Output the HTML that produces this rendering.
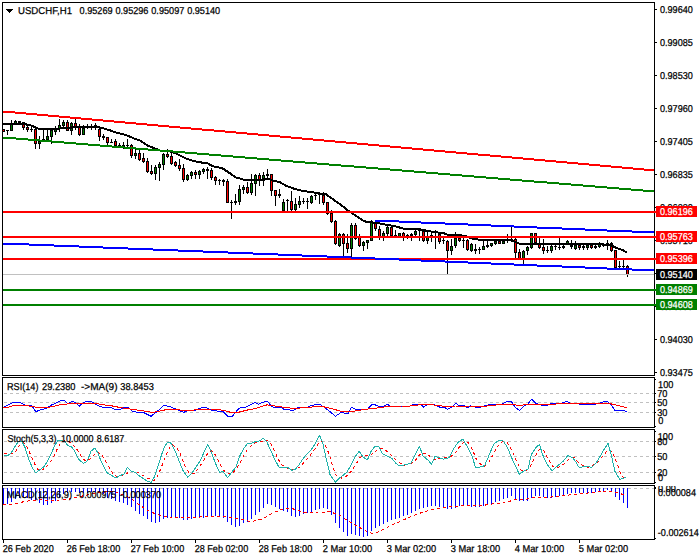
<!DOCTYPE html>
<html><head><meta charset="utf-8"><title>USDCHF,H1</title>
<style>html,body{margin:0;padding:0;background:#fff;overflow:hidden}svg{display:block}text{font-family:"Liberation Sans",sans-serif}</style>
</head><body>
<svg width="700" height="560" viewBox="0 0 700 560" font-family="Liberation Sans, sans-serif" text-rendering="geometricPrecision"><rect x="3" y="129" width="1" height="3" fill="#000"/>
<rect x="3" y="129" width="2" height="3" fill="#000"/>
<rect x="3" y="130" width="1" height="1" fill="#ff0000"/>
<rect x="7" y="130" width="1" height="5" fill="#000"/>
<rect x="6" y="130" width="3" height="1" fill="#000"/>
<rect x="11" y="120" width="1" height="11" fill="#000"/>
<rect x="10" y="124" width="3" height="7" fill="#000"/>
<rect x="11" y="125" width="1" height="5" fill="#008000"/>
<rect x="15" y="120" width="1" height="4" fill="#000"/>
<rect x="14" y="121" width="3" height="3" fill="#000"/>
<rect x="15" y="122" width="1" height="1" fill="#008000"/>
<rect x="19" y="121" width="1" height="3" fill="#000"/>
<rect x="18" y="121" width="3" height="2" fill="#000"/>
<rect x="23" y="122" width="1" height="8" fill="#000"/>
<rect x="22" y="122" width="3" height="6" fill="#000"/>
<rect x="23" y="123" width="1" height="4" fill="#ff0000"/>
<rect x="27" y="126" width="1" height="6" fill="#000"/>
<rect x="26" y="127" width="3" height="3" fill="#000"/>
<rect x="27" y="128" width="1" height="1" fill="#ff0000"/>
<rect x="31" y="127" width="1" height="5" fill="#000"/>
<rect x="30" y="129" width="3" height="1" fill="#000"/>
<rect x="35" y="129" width="1" height="20" fill="#000"/>
<rect x="34" y="129" width="3" height="15" fill="#000"/>
<rect x="35" y="130" width="1" height="13" fill="#ff0000"/>
<rect x="39" y="136" width="1" height="13" fill="#000"/>
<rect x="38" y="141" width="3" height="3" fill="#000"/>
<rect x="39" y="142" width="1" height="1" fill="#008000"/>
<rect x="43" y="129" width="1" height="11" fill="#000"/>
<rect x="42" y="139" width="3" height="1" fill="#000"/>
<rect x="47" y="129" width="1" height="12" fill="#000"/>
<rect x="46" y="136" width="3" height="4" fill="#000"/>
<rect x="47" y="137" width="1" height="2" fill="#008000"/>
<rect x="51" y="129" width="1" height="15" fill="#000"/>
<rect x="50" y="130" width="3" height="7" fill="#000"/>
<rect x="51" y="131" width="1" height="5" fill="#008000"/>
<rect x="55" y="126" width="1" height="9" fill="#000"/>
<rect x="54" y="129" width="3" height="3" fill="#000"/>
<rect x="55" y="130" width="1" height="1" fill="#008000"/>
<rect x="59" y="119" width="1" height="13" fill="#000"/>
<rect x="58" y="125" width="3" height="4" fill="#000"/>
<rect x="59" y="126" width="1" height="2" fill="#008000"/>
<rect x="63" y="120" width="1" height="8" fill="#000"/>
<rect x="62" y="122" width="3" height="4" fill="#000"/>
<rect x="63" y="123" width="1" height="2" fill="#008000"/>
<rect x="67" y="120" width="1" height="11" fill="#000"/>
<rect x="66" y="122" width="3" height="9" fill="#000"/>
<rect x="67" y="123" width="1" height="7" fill="#ff0000"/>
<rect x="71" y="122" width="1" height="13" fill="#000"/>
<rect x="70" y="123" width="3" height="8" fill="#000"/>
<rect x="71" y="124" width="1" height="6" fill="#008000"/>
<rect x="75" y="119" width="1" height="11" fill="#000"/>
<rect x="74" y="123" width="3" height="5" fill="#000"/>
<rect x="75" y="124" width="1" height="3" fill="#ff0000"/>
<rect x="79" y="124" width="1" height="12" fill="#000"/>
<rect x="78" y="127" width="3" height="8" fill="#000"/>
<rect x="79" y="128" width="1" height="6" fill="#ff0000"/>
<rect x="83" y="125" width="1" height="10" fill="#000"/>
<rect x="82" y="128" width="3" height="7" fill="#000"/>
<rect x="83" y="129" width="1" height="5" fill="#008000"/>
<rect x="87" y="124" width="1" height="5" fill="#000"/>
<rect x="86" y="126" width="3" height="2" fill="#000"/>
<rect x="91" y="124" width="1" height="6" fill="#000"/>
<rect x="90" y="126" width="3" height="2" fill="#000"/>
<rect x="95" y="123" width="1" height="7" fill="#000"/>
<rect x="94" y="125" width="3" height="3" fill="#000"/>
<rect x="95" y="126" width="1" height="1" fill="#ff0000"/>
<rect x="99" y="128" width="1" height="13" fill="#000"/>
<rect x="98" y="129" width="3" height="8" fill="#000"/>
<rect x="99" y="130" width="1" height="6" fill="#ff0000"/>
<rect x="103" y="134" width="1" height="6" fill="#000"/>
<rect x="102" y="136" width="3" height="2" fill="#000"/>
<rect x="107" y="137" width="1" height="9" fill="#000"/>
<rect x="106" y="137" width="3" height="6" fill="#000"/>
<rect x="107" y="138" width="1" height="4" fill="#ff0000"/>
<rect x="111" y="139" width="1" height="4" fill="#000"/>
<rect x="110" y="142" width="3" height="1" fill="#000"/>
<rect x="115" y="139" width="1" height="8" fill="#000"/>
<rect x="114" y="141" width="3" height="5" fill="#000"/>
<rect x="115" y="142" width="1" height="3" fill="#ff0000"/>
<rect x="119" y="143" width="1" height="4" fill="#000"/>
<rect x="118" y="145" width="3" height="1" fill="#000"/>
<rect x="123" y="142" width="1" height="7" fill="#000"/>
<rect x="122" y="145" width="3" height="2" fill="#000"/>
<rect x="127" y="139" width="1" height="9" fill="#000"/>
<rect x="126" y="145" width="3" height="1" fill="#000"/>
<rect x="131" y="144" width="1" height="14" fill="#000"/>
<rect x="130" y="145" width="3" height="11" fill="#000"/>
<rect x="131" y="146" width="1" height="9" fill="#ff0000"/>
<rect x="135" y="149" width="1" height="10" fill="#000"/>
<rect x="134" y="153" width="3" height="3" fill="#000"/>
<rect x="135" y="154" width="1" height="1" fill="#008000"/>
<rect x="139" y="150" width="1" height="11" fill="#000"/>
<rect x="138" y="153" width="3" height="7" fill="#000"/>
<rect x="139" y="154" width="1" height="5" fill="#ff0000"/>
<rect x="143" y="153" width="1" height="10" fill="#000"/>
<rect x="142" y="158" width="3" height="4" fill="#000"/>
<rect x="143" y="159" width="1" height="2" fill="#ff0000"/>
<rect x="147" y="158" width="1" height="15" fill="#000"/>
<rect x="146" y="161" width="3" height="11" fill="#000"/>
<rect x="147" y="162" width="1" height="9" fill="#ff0000"/>
<rect x="151" y="165" width="1" height="10" fill="#000"/>
<rect x="150" y="171" width="3" height="3" fill="#000"/>
<rect x="151" y="172" width="1" height="1" fill="#ff0000"/>
<rect x="155" y="165" width="1" height="15" fill="#000"/>
<rect x="154" y="167" width="3" height="7" fill="#000"/>
<rect x="155" y="168" width="1" height="5" fill="#008000"/>
<rect x="159" y="162" width="1" height="19" fill="#000"/>
<rect x="158" y="164" width="3" height="4" fill="#000"/>
<rect x="159" y="165" width="1" height="2" fill="#008000"/>
<rect x="163" y="153" width="1" height="17" fill="#000"/>
<rect x="162" y="154" width="3" height="11" fill="#000"/>
<rect x="163" y="155" width="1" height="9" fill="#008000"/>
<rect x="167" y="149" width="1" height="9" fill="#000"/>
<rect x="166" y="154" width="3" height="3" fill="#000"/>
<rect x="167" y="155" width="1" height="1" fill="#ff0000"/>
<rect x="171" y="152" width="1" height="13" fill="#000"/>
<rect x="170" y="156" width="3" height="8" fill="#000"/>
<rect x="171" y="157" width="1" height="6" fill="#ff0000"/>
<rect x="175" y="161" width="1" height="6" fill="#000"/>
<rect x="174" y="162" width="3" height="4" fill="#000"/>
<rect x="175" y="163" width="1" height="2" fill="#ff0000"/>
<rect x="179" y="159" width="1" height="12" fill="#000"/>
<rect x="178" y="165" width="3" height="4" fill="#000"/>
<rect x="179" y="166" width="1" height="2" fill="#ff0000"/>
<rect x="183" y="164" width="1" height="18" fill="#000"/>
<rect x="182" y="168" width="3" height="12" fill="#000"/>
<rect x="183" y="169" width="1" height="10" fill="#ff0000"/>
<rect x="187" y="174" width="1" height="7" fill="#000"/>
<rect x="186" y="175" width="3" height="5" fill="#000"/>
<rect x="187" y="176" width="1" height="3" fill="#008000"/>
<rect x="191" y="171" width="1" height="8" fill="#000"/>
<rect x="190" y="172" width="3" height="4" fill="#000"/>
<rect x="191" y="173" width="1" height="2" fill="#008000"/>
<rect x="195" y="170" width="1" height="9" fill="#000"/>
<rect x="194" y="172" width="3" height="3" fill="#000"/>
<rect x="195" y="173" width="1" height="1" fill="#ff0000"/>
<rect x="199" y="170" width="1" height="9" fill="#000"/>
<rect x="198" y="171" width="3" height="4" fill="#000"/>
<rect x="199" y="172" width="1" height="2" fill="#008000"/>
<rect x="203" y="168" width="1" height="6" fill="#000"/>
<rect x="202" y="169" width="3" height="3" fill="#000"/>
<rect x="203" y="170" width="1" height="1" fill="#008000"/>
<rect x="207" y="167" width="1" height="12" fill="#000"/>
<rect x="206" y="169" width="3" height="2" fill="#000"/>
<rect x="211" y="168" width="1" height="12" fill="#000"/>
<rect x="210" y="170" width="3" height="8" fill="#000"/>
<rect x="211" y="171" width="1" height="6" fill="#ff0000"/>
<rect x="215" y="176" width="1" height="9" fill="#000"/>
<rect x="214" y="177" width="3" height="4" fill="#000"/>
<rect x="215" y="178" width="1" height="2" fill="#ff0000"/>
<rect x="219" y="179" width="1" height="6" fill="#000"/>
<rect x="218" y="180" width="3" height="1" fill="#000"/>
<rect x="223" y="179" width="1" height="7" fill="#000"/>
<rect x="222" y="180" width="3" height="2" fill="#000"/>
<rect x="227" y="179" width="1" height="24" fill="#000"/>
<rect x="226" y="181" width="3" height="22" fill="#000"/>
<rect x="227" y="182" width="1" height="20" fill="#ff0000"/>
<rect x="231" y="200" width="1" height="19" fill="#000"/>
<rect x="230" y="202" width="3" height="1" fill="#000"/>
<rect x="235" y="194" width="1" height="11" fill="#000"/>
<rect x="234" y="201" width="3" height="2" fill="#000"/>
<rect x="239" y="185" width="1" height="20" fill="#000"/>
<rect x="238" y="189" width="3" height="13" fill="#000"/>
<rect x="239" y="190" width="1" height="11" fill="#008000"/>
<rect x="243" y="185" width="1" height="9" fill="#000"/>
<rect x="242" y="187" width="3" height="3" fill="#000"/>
<rect x="243" y="188" width="1" height="1" fill="#008000"/>
<rect x="247" y="182" width="1" height="12" fill="#000"/>
<rect x="246" y="187" width="3" height="6" fill="#000"/>
<rect x="247" y="188" width="1" height="4" fill="#ff0000"/>
<rect x="251" y="174" width="1" height="21" fill="#000"/>
<rect x="250" y="183" width="3" height="10" fill="#000"/>
<rect x="251" y="184" width="1" height="8" fill="#008000"/>
<rect x="255" y="174" width="1" height="22" fill="#000"/>
<rect x="254" y="175" width="3" height="9" fill="#000"/>
<rect x="255" y="176" width="1" height="7" fill="#008000"/>
<rect x="259" y="173" width="1" height="13" fill="#000"/>
<rect x="258" y="175" width="3" height="6" fill="#000"/>
<rect x="259" y="176" width="1" height="4" fill="#ff0000"/>
<rect x="263" y="172" width="1" height="14" fill="#000"/>
<rect x="262" y="175" width="3" height="6" fill="#000"/>
<rect x="263" y="176" width="1" height="4" fill="#008000"/>
<rect x="267" y="169" width="1" height="9" fill="#000"/>
<rect x="266" y="174" width="3" height="2" fill="#000"/>
<rect x="271" y="174" width="1" height="22" fill="#000"/>
<rect x="270" y="174" width="3" height="17" fill="#000"/>
<rect x="271" y="175" width="1" height="15" fill="#ff0000"/>
<rect x="275" y="190" width="1" height="16" fill="#000"/>
<rect x="274" y="190" width="3" height="6" fill="#000"/>
<rect x="275" y="191" width="1" height="4" fill="#ff0000"/>
<rect x="279" y="189" width="1" height="9" fill="#000"/>
<rect x="278" y="194" width="3" height="2" fill="#000"/>
<rect x="283" y="199" width="1" height="13" fill="#000"/>
<rect x="282" y="202" width="3" height="9" fill="#000"/>
<rect x="283" y="203" width="1" height="7" fill="#008000"/>
<rect x="287" y="199" width="1" height="14" fill="#000"/>
<rect x="286" y="200" width="3" height="1" fill="#000"/>
<rect x="291" y="191" width="1" height="20" fill="#000"/>
<rect x="290" y="201" width="3" height="9" fill="#000"/>
<rect x="291" y="202" width="1" height="7" fill="#ff0000"/>
<rect x="295" y="198" width="1" height="14" fill="#000"/>
<rect x="294" y="204" width="3" height="6" fill="#000"/>
<rect x="295" y="205" width="1" height="4" fill="#008000"/>
<rect x="299" y="196" width="1" height="12" fill="#000"/>
<rect x="298" y="201" width="3" height="4" fill="#000"/>
<rect x="299" y="202" width="1" height="2" fill="#008000"/>
<rect x="303" y="198" width="1" height="6" fill="#000"/>
<rect x="302" y="201" width="3" height="1" fill="#000"/>
<rect x="307" y="198" width="1" height="11" fill="#000"/>
<rect x="306" y="201" width="3" height="1" fill="#000"/>
<rect x="311" y="195" width="1" height="9" fill="#000"/>
<rect x="310" y="196" width="3" height="7" fill="#000"/>
<rect x="311" y="197" width="1" height="5" fill="#008000"/>
<rect x="315" y="194" width="1" height="6" fill="#000"/>
<rect x="314" y="195" width="3" height="1" fill="#000"/>
<rect x="319" y="192" width="1" height="12" fill="#000"/>
<rect x="318" y="194" width="3" height="1" fill="#000"/>
<rect x="323" y="192" width="1" height="13" fill="#000"/>
<rect x="322" y="195" width="3" height="8" fill="#000"/>
<rect x="323" y="196" width="1" height="6" fill="#ff0000"/>
<rect x="327" y="202" width="1" height="13" fill="#000"/>
<rect x="326" y="202" width="3" height="12" fill="#000"/>
<rect x="327" y="203" width="1" height="10" fill="#ff0000"/>
<rect x="331" y="210" width="1" height="13" fill="#000"/>
<rect x="330" y="213" width="3" height="9" fill="#000"/>
<rect x="331" y="214" width="1" height="7" fill="#ff0000"/>
<rect x="335" y="220" width="1" height="25" fill="#000"/>
<rect x="334" y="221" width="3" height="23" fill="#000"/>
<rect x="335" y="222" width="1" height="21" fill="#ff0000"/>
<rect x="339" y="233" width="1" height="14" fill="#000"/>
<rect x="338" y="234" width="3" height="12" fill="#000"/>
<rect x="339" y="235" width="1" height="10" fill="#008000"/>
<rect x="343" y="233" width="1" height="24" fill="#000"/>
<rect x="342" y="234" width="3" height="10" fill="#000"/>
<rect x="343" y="235" width="1" height="8" fill="#ff0000"/>
<rect x="347" y="234" width="1" height="19" fill="#000"/>
<rect x="346" y="243" width="3" height="6" fill="#000"/>
<rect x="347" y="244" width="1" height="4" fill="#ff0000"/>
<rect x="351" y="223" width="1" height="34" fill="#000"/>
<rect x="350" y="225" width="3" height="24" fill="#000"/>
<rect x="351" y="226" width="1" height="22" fill="#008000"/>
<rect x="355" y="223" width="1" height="17" fill="#000"/>
<rect x="354" y="225" width="3" height="14" fill="#000"/>
<rect x="355" y="226" width="1" height="12" fill="#ff0000"/>
<rect x="359" y="234" width="1" height="13" fill="#000"/>
<rect x="358" y="237" width="3" height="9" fill="#000"/>
<rect x="359" y="238" width="1" height="7" fill="#ff0000"/>
<rect x="363" y="241" width="1" height="10" fill="#000"/>
<rect x="362" y="242" width="3" height="4" fill="#000"/>
<rect x="363" y="243" width="1" height="2" fill="#008000"/>
<rect x="367" y="240" width="1" height="9" fill="#000"/>
<rect x="366" y="240" width="3" height="3" fill="#000"/>
<rect x="367" y="241" width="1" height="1" fill="#008000"/>
<rect x="371" y="220" width="1" height="21" fill="#000"/>
<rect x="370" y="222" width="3" height="19" fill="#000"/>
<rect x="371" y="223" width="1" height="17" fill="#008000"/>
<rect x="375" y="222" width="1" height="9" fill="#000"/>
<rect x="374" y="223" width="3" height="6" fill="#000"/>
<rect x="375" y="224" width="1" height="4" fill="#ff0000"/>
<rect x="379" y="226" width="1" height="14" fill="#000"/>
<rect x="378" y="229" width="3" height="9" fill="#000"/>
<rect x="379" y="230" width="1" height="7" fill="#ff0000"/>
<rect x="383" y="231" width="1" height="10" fill="#000"/>
<rect x="382" y="233" width="3" height="5" fill="#000"/>
<rect x="383" y="234" width="1" height="3" fill="#008000"/>
<rect x="387" y="226" width="1" height="10" fill="#000"/>
<rect x="386" y="227" width="3" height="7" fill="#000"/>
<rect x="387" y="228" width="1" height="5" fill="#008000"/>
<rect x="391" y="226" width="1" height="11" fill="#000"/>
<rect x="390" y="227" width="3" height="9" fill="#000"/>
<rect x="391" y="228" width="1" height="7" fill="#ff0000"/>
<rect x="395" y="230" width="1" height="6" fill="#000"/>
<rect x="394" y="235" width="3" height="1" fill="#000"/>
<rect x="399" y="233" width="1" height="4" fill="#000"/>
<rect x="398" y="233" width="3" height="4" fill="#000"/>
<rect x="399" y="234" width="1" height="2" fill="#008000"/>
<rect x="403" y="232" width="1" height="9" fill="#000"/>
<rect x="402" y="233" width="3" height="4" fill="#000"/>
<rect x="403" y="234" width="1" height="2" fill="#ff0000"/>
<rect x="407" y="234" width="1" height="5" fill="#000"/>
<rect x="406" y="235" width="3" height="2" fill="#000"/>
<rect x="411" y="233" width="1" height="8" fill="#000"/>
<rect x="410" y="234" width="3" height="2" fill="#000"/>
<rect x="415" y="230" width="1" height="6" fill="#000"/>
<rect x="414" y="231" width="3" height="4" fill="#000"/>
<rect x="415" y="232" width="1" height="2" fill="#008000"/>
<rect x="419" y="229" width="1" height="12" fill="#000"/>
<rect x="418" y="230" width="3" height="1" fill="#000"/>
<rect x="423" y="230" width="1" height="12" fill="#000"/>
<rect x="422" y="231" width="3" height="10" fill="#000"/>
<rect x="423" y="232" width="1" height="8" fill="#ff0000"/>
<rect x="427" y="232" width="1" height="12" fill="#000"/>
<rect x="426" y="236" width="3" height="5" fill="#000"/>
<rect x="427" y="237" width="1" height="3" fill="#008000"/>
<rect x="431" y="232" width="1" height="10" fill="#000"/>
<rect x="430" y="235" width="3" height="1" fill="#000"/>
<rect x="435" y="230" width="1" height="19" fill="#000"/>
<rect x="434" y="232" width="3" height="1" fill="#000"/>
<rect x="439" y="233" width="1" height="11" fill="#000"/>
<rect x="438" y="234" width="3" height="8" fill="#000"/>
<rect x="439" y="235" width="1" height="6" fill="#ff0000"/>
<rect x="443" y="238" width="1" height="6" fill="#000"/>
<rect x="442" y="240" width="3" height="1" fill="#000"/>
<rect x="447" y="240" width="1" height="35" fill="#000"/>
<rect x="446" y="241" width="3" height="10" fill="#000"/>
<rect x="447" y="242" width="1" height="8" fill="#ff0000"/>
<rect x="451" y="239" width="1" height="16" fill="#000"/>
<rect x="450" y="246" width="3" height="5" fill="#000"/>
<rect x="451" y="247" width="1" height="3" fill="#008000"/>
<rect x="455" y="232" width="1" height="16" fill="#000"/>
<rect x="454" y="238" width="3" height="8" fill="#000"/>
<rect x="455" y="239" width="1" height="6" fill="#008000"/>
<rect x="459" y="234" width="1" height="8" fill="#000"/>
<rect x="458" y="238" width="3" height="3" fill="#000"/>
<rect x="459" y="239" width="1" height="1" fill="#ff0000"/>
<rect x="463" y="238" width="1" height="10" fill="#000"/>
<rect x="462" y="240" width="3" height="1" fill="#000"/>
<rect x="467" y="239" width="1" height="12" fill="#000"/>
<rect x="466" y="240" width="3" height="10" fill="#000"/>
<rect x="467" y="241" width="1" height="8" fill="#ff0000"/>
<rect x="471" y="243" width="1" height="9" fill="#000"/>
<rect x="470" y="244" width="3" height="7" fill="#000"/>
<rect x="471" y="245" width="1" height="5" fill="#008000"/>
<rect x="475" y="244" width="1" height="10" fill="#000"/>
<rect x="474" y="249" width="3" height="2" fill="#000"/>
<rect x="479" y="247" width="1" height="7" fill="#000"/>
<rect x="478" y="249" width="3" height="1" fill="#000"/>
<rect x="483" y="241" width="1" height="9" fill="#000"/>
<rect x="482" y="246" width="3" height="4" fill="#000"/>
<rect x="483" y="247" width="1" height="2" fill="#008000"/>
<rect x="487" y="241" width="1" height="7" fill="#000"/>
<rect x="486" y="245" width="3" height="2" fill="#000"/>
<rect x="491" y="243" width="1" height="4" fill="#000"/>
<rect x="490" y="243" width="3" height="3" fill="#000"/>
<rect x="491" y="244" width="1" height="1" fill="#008000"/>
<rect x="495" y="241" width="1" height="4" fill="#000"/>
<rect x="494" y="241" width="3" height="3" fill="#000"/>
<rect x="495" y="242" width="1" height="1" fill="#008000"/>
<rect x="499" y="241" width="1" height="3" fill="#000"/>
<rect x="498" y="241" width="3" height="3" fill="#000"/>
<rect x="499" y="242" width="1" height="1" fill="#ff0000"/>
<rect x="503" y="241" width="1" height="3" fill="#000"/>
<rect x="502" y="241" width="3" height="3" fill="#000"/>
<rect x="503" y="242" width="1" height="1" fill="#008000"/>
<rect x="507" y="234" width="1" height="9" fill="#000"/>
<rect x="506" y="240" width="3" height="1" fill="#000"/>
<rect x="511" y="227" width="1" height="15" fill="#000"/>
<rect x="510" y="239" width="3" height="1" fill="#000"/>
<rect x="515" y="238" width="1" height="21" fill="#000"/>
<rect x="514" y="239" width="3" height="14" fill="#000"/>
<rect x="515" y="240" width="1" height="12" fill="#ff0000"/>
<rect x="519" y="249" width="1" height="10" fill="#000"/>
<rect x="518" y="252" width="3" height="7" fill="#000"/>
<rect x="519" y="253" width="1" height="5" fill="#ff0000"/>
<rect x="523" y="250" width="1" height="14" fill="#000"/>
<rect x="522" y="251" width="3" height="8" fill="#000"/>
<rect x="523" y="252" width="1" height="6" fill="#008000"/>
<rect x="527" y="246" width="1" height="9" fill="#000"/>
<rect x="526" y="247" width="3" height="4" fill="#000"/>
<rect x="527" y="248" width="1" height="2" fill="#008000"/>
<rect x="531" y="233" width="1" height="16" fill="#000"/>
<rect x="530" y="233" width="3" height="15" fill="#000"/>
<rect x="531" y="234" width="1" height="13" fill="#008000"/>
<rect x="535" y="233" width="1" height="12" fill="#000"/>
<rect x="534" y="233" width="3" height="10" fill="#000"/>
<rect x="535" y="234" width="1" height="8" fill="#ff0000"/>
<rect x="539" y="238" width="1" height="11" fill="#000"/>
<rect x="538" y="244" width="3" height="4" fill="#000"/>
<rect x="539" y="245" width="1" height="2" fill="#ff0000"/>
<rect x="543" y="239" width="1" height="15" fill="#000"/>
<rect x="542" y="247" width="3" height="4" fill="#000"/>
<rect x="543" y="248" width="1" height="2" fill="#ff0000"/>
<rect x="547" y="246" width="1" height="7" fill="#000"/>
<rect x="546" y="250" width="3" height="1" fill="#000"/>
<rect x="551" y="243" width="1" height="10" fill="#000"/>
<rect x="550" y="246" width="3" height="5" fill="#000"/>
<rect x="551" y="247" width="1" height="3" fill="#008000"/>
<rect x="555" y="245" width="1" height="5" fill="#000"/>
<rect x="554" y="246" width="3" height="1" fill="#000"/>
<rect x="559" y="238" width="1" height="12" fill="#000"/>
<rect x="558" y="247" width="3" height="1" fill="#000"/>
<rect x="563" y="243" width="1" height="6" fill="#000"/>
<rect x="562" y="246" width="3" height="2" fill="#000"/>
<rect x="567" y="240" width="1" height="5" fill="#000"/>
<rect x="566" y="241" width="3" height="3" fill="#000"/>
<rect x="567" y="242" width="1" height="1" fill="#008000"/>
<rect x="571" y="240" width="1" height="9" fill="#000"/>
<rect x="570" y="245" width="3" height="2" fill="#000"/>
<rect x="575" y="241" width="1" height="9" fill="#000"/>
<rect x="574" y="245" width="3" height="4" fill="#000"/>
<rect x="575" y="246" width="1" height="2" fill="#008000"/>
<rect x="579" y="243" width="1" height="7" fill="#000"/>
<rect x="578" y="245" width="3" height="3" fill="#000"/>
<rect x="579" y="246" width="1" height="1" fill="#ff0000"/>
<rect x="583" y="245" width="1" height="5" fill="#000"/>
<rect x="582" y="246" width="3" height="2" fill="#000"/>
<rect x="587" y="245" width="1" height="5" fill="#000"/>
<rect x="586" y="245" width="3" height="3" fill="#000"/>
<rect x="587" y="246" width="1" height="1" fill="#008000"/>
<rect x="591" y="245" width="1" height="4" fill="#000"/>
<rect x="590" y="245" width="3" height="3" fill="#000"/>
<rect x="591" y="246" width="1" height="1" fill="#ff0000"/>
<rect x="595" y="245" width="1" height="4" fill="#000"/>
<rect x="594" y="246" width="3" height="2" fill="#000"/>
<rect x="599" y="242" width="1" height="6" fill="#000"/>
<rect x="598" y="244" width="3" height="3" fill="#000"/>
<rect x="599" y="245" width="1" height="1" fill="#008000"/>
<rect x="603" y="243" width="1" height="4" fill="#000"/>
<rect x="602" y="244" width="3" height="2" fill="#000"/>
<rect x="607" y="240" width="1" height="10" fill="#000"/>
<rect x="606" y="243" width="3" height="3" fill="#000"/>
<rect x="607" y="244" width="1" height="1" fill="#008000"/>
<rect x="611" y="242" width="1" height="10" fill="#000"/>
<rect x="610" y="243" width="3" height="8" fill="#000"/>
<rect x="611" y="244" width="1" height="6" fill="#ff0000"/>
<rect x="615" y="250" width="1" height="18" fill="#000"/>
<rect x="614" y="250" width="3" height="18" fill="#000"/>
<rect x="615" y="251" width="1" height="16" fill="#ff0000"/>
<rect x="619" y="261" width="1" height="7" fill="#000"/>
<rect x="618" y="266" width="3" height="1" fill="#000"/>
<rect x="623" y="260" width="1" height="8" fill="#000"/>
<rect x="622" y="266" width="3" height="1" fill="#000"/>
<rect x="627" y="265" width="1" height="12" fill="#000"/>
<rect x="626" y="266" width="3" height="9" fill="#000"/>
<rect x="627" y="267" width="1" height="7" fill="#ff0000"/>
<polyline points="3.0,124.0 23.0,124.0 30.0,125.0 38.0,128.6 50.0,129.0 60.0,128.5 70.0,127.8 76.0,126.6 100.0,127.4 110.0,130.3 116.0,132.6 122.0,134.0 128.0,135.8 134.0,138.5 140.0,140.5 142.0,142.0 148.0,145.7 154.0,148.2 160.0,150.5 170.0,151.4 176.0,153.5 180.0,155.4 186.0,158.5 192.0,160.6 200.0,162.3 208.0,163.4 212.0,166.0 216.0,166.9 222.0,168.0 228.0,172.0 236.0,177.4 244.0,179.7 260.0,179.7 268.0,178.9 274.0,180.8 280.0,182.3 286.0,185.7 292.0,188.0 296.0,189.3 304.0,191.1 312.0,192.1 320.0,193.6 326.0,194.3 330.0,197.1 336.0,201.4 342.0,205.7 348.0,210.7 352.0,213.1 356.0,215.7 362.0,220.0 367.0,222.1 372.0,222.3 380.0,223.5 388.0,225.0 396.0,226.5 404.0,228.8 412.0,229.0 420.0,229.4 428.0,231.0 436.0,232.3 444.0,233.1 446.0,234.4 452.0,235.0 464.0,235.6 472.0,238.6 480.0,239.8 490.0,240.0 508.0,240.0 512.0,240.5 516.0,242.4 520.0,244.0 540.0,244.0 560.0,244.0 580.0,244.0 596.0,244.4 610.0,244.6 616.0,247.8 622.0,249.8 627.0,252.5" fill="none" stroke="#000" stroke-width="2" shape-rendering="crispEdges" stroke-linejoin="round"/>
<rect x="2" y="2" width="653" height="1" fill="#000"/>
<rect x="2" y="375" width="653" height="1" fill="#000"/>
<rect x="2" y="2" width="1" height="374" fill="#000"/>
<rect x="654" y="2" width="1" height="374" fill="#000"/>
<rect x="3" y="211" width="653" height="2" fill="#ff0000"/>
<rect x="3" y="236" width="653" height="2" fill="#ff0000"/>
<rect x="3" y="258" width="653" height="2" fill="#ff0000"/>
<rect x="3" y="289" width="653" height="2" fill="#008000"/>
<rect x="3" y="304" width="653" height="2" fill="#008000"/>
<rect x="3" y="274" width="651" height="1" fill="#c0c0c0"/>
<rect x="3" y="111" width="12" height="2" fill="#ff0000"/>
<rect x="15" y="112" width="11" height="2" fill="#ff0000"/>
<rect x="26" y="113" width="11" height="2" fill="#ff0000"/>
<rect x="37" y="114" width="11" height="2" fill="#ff0000"/>
<rect x="48" y="115" width="11" height="2" fill="#ff0000"/>
<rect x="59" y="116" width="11" height="2" fill="#ff0000"/>
<rect x="70" y="117" width="11" height="2" fill="#ff0000"/>
<rect x="81" y="118" width="11" height="2" fill="#ff0000"/>
<rect x="92" y="119" width="11" height="2" fill="#ff0000"/>
<rect x="103" y="120" width="11" height="2" fill="#ff0000"/>
<rect x="114" y="121" width="11" height="2" fill="#ff0000"/>
<rect x="125" y="122" width="11" height="2" fill="#ff0000"/>
<rect x="136" y="123" width="11" height="2" fill="#ff0000"/>
<rect x="147" y="124" width="11" height="2" fill="#ff0000"/>
<rect x="158" y="125" width="11" height="2" fill="#ff0000"/>
<rect x="169" y="126" width="11" height="2" fill="#ff0000"/>
<rect x="180" y="127" width="11" height="2" fill="#ff0000"/>
<rect x="191" y="128" width="11" height="2" fill="#ff0000"/>
<rect x="202" y="129" width="12" height="2" fill="#ff0000"/>
<rect x="214" y="130" width="11" height="2" fill="#ff0000"/>
<rect x="225" y="131" width="11" height="2" fill="#ff0000"/>
<rect x="236" y="132" width="11" height="2" fill="#ff0000"/>
<rect x="247" y="133" width="11" height="2" fill="#ff0000"/>
<rect x="258" y="134" width="11" height="2" fill="#ff0000"/>
<rect x="269" y="135" width="11" height="2" fill="#ff0000"/>
<rect x="280" y="136" width="11" height="2" fill="#ff0000"/>
<rect x="291" y="137" width="11" height="2" fill="#ff0000"/>
<rect x="302" y="138" width="11" height="2" fill="#ff0000"/>
<rect x="313" y="139" width="11" height="2" fill="#ff0000"/>
<rect x="324" y="140" width="11" height="2" fill="#ff0000"/>
<rect x="335" y="141" width="11" height="2" fill="#ff0000"/>
<rect x="346" y="142" width="11" height="2" fill="#ff0000"/>
<rect x="357" y="143" width="11" height="2" fill="#ff0000"/>
<rect x="368" y="144" width="11" height="2" fill="#ff0000"/>
<rect x="379" y="145" width="11" height="2" fill="#ff0000"/>
<rect x="390" y="146" width="11" height="2" fill="#ff0000"/>
<rect x="401" y="147" width="11" height="2" fill="#ff0000"/>
<rect x="412" y="148" width="11" height="2" fill="#ff0000"/>
<rect x="423" y="149" width="11" height="2" fill="#ff0000"/>
<rect x="434" y="150" width="11" height="2" fill="#ff0000"/>
<rect x="445" y="151" width="11" height="2" fill="#ff0000"/>
<rect x="456" y="152" width="11" height="2" fill="#ff0000"/>
<rect x="467" y="153" width="11" height="2" fill="#ff0000"/>
<rect x="478" y="154" width="12" height="2" fill="#ff0000"/>
<rect x="490" y="155" width="11" height="2" fill="#ff0000"/>
<rect x="501" y="156" width="11" height="2" fill="#ff0000"/>
<rect x="512" y="157" width="11" height="2" fill="#ff0000"/>
<rect x="523" y="158" width="11" height="2" fill="#ff0000"/>
<rect x="534" y="159" width="11" height="2" fill="#ff0000"/>
<rect x="545" y="160" width="11" height="2" fill="#ff0000"/>
<rect x="556" y="161" width="11" height="2" fill="#ff0000"/>
<rect x="567" y="162" width="11" height="2" fill="#ff0000"/>
<rect x="578" y="163" width="11" height="2" fill="#ff0000"/>
<rect x="589" y="164" width="11" height="2" fill="#ff0000"/>
<rect x="600" y="165" width="11" height="2" fill="#ff0000"/>
<rect x="611" y="166" width="11" height="2" fill="#ff0000"/>
<rect x="622" y="167" width="11" height="2" fill="#ff0000"/>
<rect x="633" y="168" width="11" height="2" fill="#ff0000"/>
<rect x="644" y="169" width="10" height="2" fill="#ff0000"/>
<rect x="3" y="137" width="13" height="2" fill="#008000"/>
<rect x="16" y="138" width="12" height="2" fill="#008000"/>
<rect x="28" y="139" width="12" height="2" fill="#008000"/>
<rect x="40" y="140" width="12" height="2" fill="#008000"/>
<rect x="52" y="141" width="12" height="2" fill="#008000"/>
<rect x="64" y="142" width="12" height="2" fill="#008000"/>
<rect x="76" y="143" width="12" height="2" fill="#008000"/>
<rect x="88" y="144" width="12" height="2" fill="#008000"/>
<rect x="100" y="145" width="12" height="2" fill="#008000"/>
<rect x="112" y="146" width="12" height="2" fill="#008000"/>
<rect x="124" y="147" width="12" height="2" fill="#008000"/>
<rect x="136" y="148" width="12" height="2" fill="#008000"/>
<rect x="148" y="149" width="12" height="2" fill="#008000"/>
<rect x="160" y="150" width="13" height="2" fill="#008000"/>
<rect x="173" y="151" width="12" height="2" fill="#008000"/>
<rect x="185" y="152" width="12" height="2" fill="#008000"/>
<rect x="197" y="153" width="12" height="2" fill="#008000"/>
<rect x="209" y="154" width="12" height="2" fill="#008000"/>
<rect x="221" y="155" width="12" height="2" fill="#008000"/>
<rect x="233" y="156" width="12" height="2" fill="#008000"/>
<rect x="245" y="157" width="12" height="2" fill="#008000"/>
<rect x="257" y="158" width="12" height="2" fill="#008000"/>
<rect x="269" y="159" width="12" height="2" fill="#008000"/>
<rect x="281" y="160" width="12" height="2" fill="#008000"/>
<rect x="293" y="161" width="12" height="2" fill="#008000"/>
<rect x="305" y="162" width="12" height="2" fill="#008000"/>
<rect x="317" y="163" width="12" height="2" fill="#008000"/>
<rect x="329" y="164" width="12" height="2" fill="#008000"/>
<rect x="341" y="165" width="13" height="2" fill="#008000"/>
<rect x="354" y="166" width="12" height="2" fill="#008000"/>
<rect x="366" y="167" width="12" height="2" fill="#008000"/>
<rect x="378" y="168" width="12" height="2" fill="#008000"/>
<rect x="390" y="169" width="12" height="2" fill="#008000"/>
<rect x="402" y="170" width="12" height="2" fill="#008000"/>
<rect x="414" y="171" width="12" height="2" fill="#008000"/>
<rect x="426" y="172" width="12" height="2" fill="#008000"/>
<rect x="438" y="173" width="12" height="2" fill="#008000"/>
<rect x="450" y="174" width="12" height="2" fill="#008000"/>
<rect x="462" y="175" width="12" height="2" fill="#008000"/>
<rect x="474" y="176" width="12" height="2" fill="#008000"/>
<rect x="486" y="177" width="12" height="2" fill="#008000"/>
<rect x="498" y="178" width="12" height="2" fill="#008000"/>
<rect x="510" y="179" width="12" height="2" fill="#008000"/>
<rect x="522" y="180" width="12" height="2" fill="#008000"/>
<rect x="534" y="181" width="13" height="2" fill="#008000"/>
<rect x="547" y="182" width="12" height="2" fill="#008000"/>
<rect x="559" y="183" width="12" height="2" fill="#008000"/>
<rect x="571" y="184" width="12" height="2" fill="#008000"/>
<rect x="583" y="185" width="12" height="2" fill="#008000"/>
<rect x="595" y="186" width="12" height="2" fill="#008000"/>
<rect x="607" y="187" width="12" height="2" fill="#008000"/>
<rect x="619" y="188" width="12" height="2" fill="#008000"/>
<rect x="631" y="189" width="12" height="2" fill="#008000"/>
<rect x="643" y="190" width="11" height="2" fill="#008000"/>
<rect x="3" y="243" width="26" height="2" fill="#0000ff"/>
<rect x="29" y="244" width="25" height="2" fill="#0000ff"/>
<rect x="54" y="245" width="25" height="2" fill="#0000ff"/>
<rect x="79" y="246" width="24" height="2" fill="#0000ff"/>
<rect x="103" y="247" width="25" height="2" fill="#0000ff"/>
<rect x="128" y="248" width="25" height="2" fill="#0000ff"/>
<rect x="153" y="249" width="25" height="2" fill="#0000ff"/>
<rect x="178" y="250" width="25" height="2" fill="#0000ff"/>
<rect x="203" y="251" width="25" height="2" fill="#0000ff"/>
<rect x="228" y="252" width="25" height="2" fill="#0000ff"/>
<rect x="253" y="253" width="25" height="2" fill="#0000ff"/>
<rect x="278" y="254" width="24" height="2" fill="#0000ff"/>
<rect x="302" y="255" width="25" height="2" fill="#0000ff"/>
<rect x="327" y="256" width="24" height="2" fill="#0000ff"/>
<rect x="351" y="257" width="24" height="2" fill="#0000ff"/>
<rect x="375" y="258" width="24" height="2" fill="#0000ff"/>
<rect x="399" y="259" width="22" height="2" fill="#0000ff"/>
<rect x="421" y="260" width="24" height="2" fill="#0000ff"/>
<rect x="445" y="261" width="23" height="2" fill="#0000ff"/>
<rect x="468" y="262" width="23" height="2" fill="#0000ff"/>
<rect x="491" y="263" width="23" height="2" fill="#0000ff"/>
<rect x="514" y="264" width="23" height="2" fill="#0000ff"/>
<rect x="537" y="265" width="25" height="2" fill="#0000ff"/>
<rect x="562" y="266" width="23" height="2" fill="#0000ff"/>
<rect x="585" y="267" width="22" height="2" fill="#0000ff"/>
<rect x="607" y="268" width="25" height="2" fill="#0000ff"/>
<rect x="632" y="269" width="22" height="2" fill="#0000ff"/>
<rect x="375" y="220" width="24" height="2" fill="#0000ff"/>
<rect x="399" y="221" width="22" height="2" fill="#0000ff"/>
<rect x="421" y="222" width="24" height="2" fill="#0000ff"/>
<rect x="445" y="223" width="23" height="2" fill="#0000ff"/>
<rect x="468" y="224" width="23" height="2" fill="#0000ff"/>
<rect x="491" y="225" width="23" height="2" fill="#0000ff"/>
<rect x="514" y="226" width="23" height="2" fill="#0000ff"/>
<rect x="537" y="227" width="25" height="2" fill="#0000ff"/>
<rect x="562" y="228" width="23" height="2" fill="#0000ff"/>
<rect x="585" y="229" width="22" height="2" fill="#0000ff"/>
<rect x="607" y="230" width="25" height="2" fill="#0000ff"/>
<rect x="632" y="231" width="22" height="2" fill="#0000ff"/>
<rect x="2" y="377" width="653" height="1" fill="#000"/>
<rect x="2" y="427" width="653" height="1" fill="#000"/>
<rect x="2" y="377" width="1" height="51" fill="#000"/>
<rect x="654" y="377" width="1" height="51" fill="#000"/>
<rect x="2" y="429" width="653" height="1" fill="#000"/>
<rect x="2" y="483" width="653" height="1" fill="#000"/>
<rect x="2" y="429" width="1" height="55" fill="#000"/>
<rect x="654" y="429" width="1" height="55" fill="#000"/>
<rect x="2" y="485" width="653" height="1" fill="#000"/>
<rect x="2" y="539" width="653" height="1" fill="#000"/>
<rect x="2" y="485" width="1" height="55" fill="#000"/>
<rect x="654" y="485" width="1" height="55" fill="#000"/>
<rect x="655" y="9" width="2" height="1" fill="#000"/>
<text x="660" y="13" font-size="10" fill="#000" stroke="#000" stroke-width="0.25" textLength="32.8" lengthAdjust="spacingAndGlyphs" xml:space="preserve">0.99640</text>
<rect x="655" y="42" width="2" height="1" fill="#000"/>
<text x="660" y="46" font-size="10" fill="#000" stroke="#000" stroke-width="0.25" textLength="32.8" lengthAdjust="spacingAndGlyphs" xml:space="preserve">0.99085</text>
<rect x="655" y="75" width="2" height="1" fill="#000"/>
<text x="660" y="79" font-size="10" fill="#000" stroke="#000" stroke-width="0.25" textLength="32.8" lengthAdjust="spacingAndGlyphs" xml:space="preserve">0.98530</text>
<rect x="655" y="108" width="2" height="1" fill="#000"/>
<text x="660" y="112" font-size="10" fill="#000" stroke="#000" stroke-width="0.25" textLength="32.8" lengthAdjust="spacingAndGlyphs" xml:space="preserve">0.97960</text>
<rect x="655" y="141" width="2" height="1" fill="#000"/>
<text x="660" y="145" font-size="10" fill="#000" stroke="#000" stroke-width="0.25" textLength="32.8" lengthAdjust="spacingAndGlyphs" xml:space="preserve">0.97405</text>
<rect x="655" y="174" width="2" height="1" fill="#000"/>
<text x="660" y="178" font-size="10" fill="#000" stroke="#000" stroke-width="0.25" textLength="32.8" lengthAdjust="spacingAndGlyphs" xml:space="preserve">0.96835</text>
<rect x="655" y="207" width="2" height="1" fill="#000"/>
<text x="660" y="211" font-size="10" fill="#000" stroke="#000" stroke-width="0.25" textLength="32.8" lengthAdjust="spacingAndGlyphs" xml:space="preserve">0.96280</text>
<rect x="655" y="240" width="2" height="1" fill="#000"/>
<text x="660" y="244" font-size="10" fill="#000" stroke="#000" stroke-width="0.25" textLength="32.8" lengthAdjust="spacingAndGlyphs" xml:space="preserve">0.95710</text>
<rect x="655" y="273" width="2" height="1" fill="#000"/>
<text x="660" y="277" font-size="10" fill="#000" stroke="#000" stroke-width="0.25" textLength="32.8" lengthAdjust="spacingAndGlyphs" xml:space="preserve">0.95140</text>
<rect x="655" y="306" width="2" height="1" fill="#000"/>
<text x="660" y="310" font-size="10" fill="#000" stroke="#000" stroke-width="0.25" textLength="32.8" lengthAdjust="spacingAndGlyphs" xml:space="preserve">0.94600</text>
<rect x="655" y="339" width="2" height="1" fill="#000"/>
<text x="660" y="343" font-size="10" fill="#000" stroke="#000" stroke-width="0.25" textLength="32.8" lengthAdjust="spacingAndGlyphs" xml:space="preserve">0.94030</text>
<rect x="655" y="372" width="2" height="1" fill="#000"/>
<text x="660" y="376" font-size="10" fill="#000" stroke="#000" stroke-width="0.25" textLength="32.8" lengthAdjust="spacingAndGlyphs" xml:space="preserve">0.93475</text>
<rect x="656" y="206" width="41" height="11" fill="#ff0000"/>
<text x="660" y="215" font-size="10" fill="#fff" stroke="#fff" stroke-width="0.25" textLength="32.8" lengthAdjust="spacingAndGlyphs" xml:space="preserve">0.96196</text>
<rect x="656" y="231" width="41" height="11" fill="#ff0000"/>
<text x="660" y="240" font-size="10" fill="#fff" stroke="#fff" stroke-width="0.25" textLength="32.8" lengthAdjust="spacingAndGlyphs" xml:space="preserve">0.95763</text>
<rect x="656" y="253" width="41" height="11" fill="#ff0000"/>
<text x="660" y="262" font-size="10" fill="#fff" stroke="#fff" stroke-width="0.25" textLength="32.8" lengthAdjust="spacingAndGlyphs" xml:space="preserve">0.95396</text>
<rect x="656" y="269" width="41" height="11" fill="#000"/>
<text x="660" y="278" font-size="10" fill="#fff" stroke="#fff" stroke-width="0.25" textLength="32.8" lengthAdjust="spacingAndGlyphs" xml:space="preserve">0.95140</text>
<rect x="656" y="284" width="41" height="11" fill="#008000"/>
<text x="660" y="293" font-size="10" fill="#fff" stroke="#fff" stroke-width="0.25" textLength="32.8" lengthAdjust="spacingAndGlyphs" xml:space="preserve">0.94869</text>
<rect x="656" y="299" width="41" height="11" fill="#008000"/>
<text x="660" y="308" font-size="10" fill="#fff" stroke="#fff" stroke-width="0.25" textLength="32.8" lengthAdjust="spacingAndGlyphs" xml:space="preserve">0.94608</text>
<rect x="6" y="9" width="7" height="1" fill="#000"/>
<rect x="7" y="10" width="5" height="1" fill="#000"/>
<rect x="8" y="11" width="3" height="1" fill="#000"/>
<rect x="9" y="12" width="1" height="1" fill="#000"/>
<text x="18" y="14" font-size="10" fill="#000" stroke="#000" stroke-width="0.25" textLength="54" lengthAdjust="spacingAndGlyphs" xml:space="preserve">USDCHF,H1</text>
<text x="79.6" y="14" font-size="10" fill="#000" stroke="#000" stroke-width="0.25" textLength="33" lengthAdjust="spacingAndGlyphs" xml:space="preserve">0.95269</text>
<text x="115.44999999999999" y="14" font-size="10" fill="#000" stroke="#000" stroke-width="0.25" textLength="33" lengthAdjust="spacingAndGlyphs" xml:space="preserve">0.95296</text>
<text x="151.3" y="14" font-size="10" fill="#000" stroke="#000" stroke-width="0.25" textLength="33" lengthAdjust="spacingAndGlyphs" xml:space="preserve">0.95097</text>
<text x="187.15" y="14" font-size="10" fill="#000" stroke="#000" stroke-width="0.25" textLength="33" lengthAdjust="spacingAndGlyphs" xml:space="preserve">0.95140</text>
<rect x="4" y="393" width="3" height="1" fill="#c0c0c0"/>
<rect x="10" y="393" width="3" height="1" fill="#c0c0c0"/>
<rect x="16" y="393" width="3" height="1" fill="#c0c0c0"/>
<rect x="22" y="393" width="3" height="1" fill="#c0c0c0"/>
<rect x="28" y="393" width="3" height="1" fill="#c0c0c0"/>
<rect x="34" y="393" width="3" height="1" fill="#c0c0c0"/>
<rect x="40" y="393" width="3" height="1" fill="#c0c0c0"/>
<rect x="46" y="393" width="3" height="1" fill="#c0c0c0"/>
<rect x="52" y="393" width="3" height="1" fill="#c0c0c0"/>
<rect x="58" y="393" width="3" height="1" fill="#c0c0c0"/>
<rect x="64" y="393" width="3" height="1" fill="#c0c0c0"/>
<rect x="70" y="393" width="3" height="1" fill="#c0c0c0"/>
<rect x="76" y="393" width="3" height="1" fill="#c0c0c0"/>
<rect x="82" y="393" width="3" height="1" fill="#c0c0c0"/>
<rect x="88" y="393" width="3" height="1" fill="#c0c0c0"/>
<rect x="94" y="393" width="3" height="1" fill="#c0c0c0"/>
<rect x="100" y="393" width="3" height="1" fill="#c0c0c0"/>
<rect x="106" y="393" width="3" height="1" fill="#c0c0c0"/>
<rect x="112" y="393" width="3" height="1" fill="#c0c0c0"/>
<rect x="118" y="393" width="3" height="1" fill="#c0c0c0"/>
<rect x="124" y="393" width="3" height="1" fill="#c0c0c0"/>
<rect x="130" y="393" width="3" height="1" fill="#c0c0c0"/>
<rect x="136" y="393" width="3" height="1" fill="#c0c0c0"/>
<rect x="142" y="393" width="3" height="1" fill="#c0c0c0"/>
<rect x="148" y="393" width="3" height="1" fill="#c0c0c0"/>
<rect x="154" y="393" width="3" height="1" fill="#c0c0c0"/>
<rect x="160" y="393" width="3" height="1" fill="#c0c0c0"/>
<rect x="166" y="393" width="3" height="1" fill="#c0c0c0"/>
<rect x="172" y="393" width="3" height="1" fill="#c0c0c0"/>
<rect x="178" y="393" width="3" height="1" fill="#c0c0c0"/>
<rect x="184" y="393" width="3" height="1" fill="#c0c0c0"/>
<rect x="190" y="393" width="3" height="1" fill="#c0c0c0"/>
<rect x="196" y="393" width="3" height="1" fill="#c0c0c0"/>
<rect x="202" y="393" width="3" height="1" fill="#c0c0c0"/>
<rect x="208" y="393" width="3" height="1" fill="#c0c0c0"/>
<rect x="214" y="393" width="3" height="1" fill="#c0c0c0"/>
<rect x="220" y="393" width="3" height="1" fill="#c0c0c0"/>
<rect x="226" y="393" width="3" height="1" fill="#c0c0c0"/>
<rect x="232" y="393" width="3" height="1" fill="#c0c0c0"/>
<rect x="238" y="393" width="3" height="1" fill="#c0c0c0"/>
<rect x="244" y="393" width="3" height="1" fill="#c0c0c0"/>
<rect x="250" y="393" width="3" height="1" fill="#c0c0c0"/>
<rect x="256" y="393" width="3" height="1" fill="#c0c0c0"/>
<rect x="262" y="393" width="3" height="1" fill="#c0c0c0"/>
<rect x="268" y="393" width="3" height="1" fill="#c0c0c0"/>
<rect x="274" y="393" width="3" height="1" fill="#c0c0c0"/>
<rect x="280" y="393" width="3" height="1" fill="#c0c0c0"/>
<rect x="286" y="393" width="3" height="1" fill="#c0c0c0"/>
<rect x="292" y="393" width="3" height="1" fill="#c0c0c0"/>
<rect x="298" y="393" width="3" height="1" fill="#c0c0c0"/>
<rect x="304" y="393" width="3" height="1" fill="#c0c0c0"/>
<rect x="310" y="393" width="3" height="1" fill="#c0c0c0"/>
<rect x="316" y="393" width="3" height="1" fill="#c0c0c0"/>
<rect x="322" y="393" width="3" height="1" fill="#c0c0c0"/>
<rect x="328" y="393" width="3" height="1" fill="#c0c0c0"/>
<rect x="334" y="393" width="3" height="1" fill="#c0c0c0"/>
<rect x="340" y="393" width="3" height="1" fill="#c0c0c0"/>
<rect x="346" y="393" width="3" height="1" fill="#c0c0c0"/>
<rect x="352" y="393" width="3" height="1" fill="#c0c0c0"/>
<rect x="358" y="393" width="3" height="1" fill="#c0c0c0"/>
<rect x="364" y="393" width="3" height="1" fill="#c0c0c0"/>
<rect x="370" y="393" width="3" height="1" fill="#c0c0c0"/>
<rect x="376" y="393" width="3" height="1" fill="#c0c0c0"/>
<rect x="382" y="393" width="3" height="1" fill="#c0c0c0"/>
<rect x="388" y="393" width="3" height="1" fill="#c0c0c0"/>
<rect x="394" y="393" width="3" height="1" fill="#c0c0c0"/>
<rect x="400" y="393" width="3" height="1" fill="#c0c0c0"/>
<rect x="406" y="393" width="3" height="1" fill="#c0c0c0"/>
<rect x="412" y="393" width="3" height="1" fill="#c0c0c0"/>
<rect x="418" y="393" width="3" height="1" fill="#c0c0c0"/>
<rect x="424" y="393" width="3" height="1" fill="#c0c0c0"/>
<rect x="430" y="393" width="3" height="1" fill="#c0c0c0"/>
<rect x="436" y="393" width="3" height="1" fill="#c0c0c0"/>
<rect x="442" y="393" width="3" height="1" fill="#c0c0c0"/>
<rect x="448" y="393" width="3" height="1" fill="#c0c0c0"/>
<rect x="454" y="393" width="3" height="1" fill="#c0c0c0"/>
<rect x="460" y="393" width="3" height="1" fill="#c0c0c0"/>
<rect x="466" y="393" width="3" height="1" fill="#c0c0c0"/>
<rect x="472" y="393" width="3" height="1" fill="#c0c0c0"/>
<rect x="478" y="393" width="3" height="1" fill="#c0c0c0"/>
<rect x="484" y="393" width="3" height="1" fill="#c0c0c0"/>
<rect x="490" y="393" width="3" height="1" fill="#c0c0c0"/>
<rect x="496" y="393" width="3" height="1" fill="#c0c0c0"/>
<rect x="502" y="393" width="3" height="1" fill="#c0c0c0"/>
<rect x="508" y="393" width="3" height="1" fill="#c0c0c0"/>
<rect x="514" y="393" width="3" height="1" fill="#c0c0c0"/>
<rect x="520" y="393" width="3" height="1" fill="#c0c0c0"/>
<rect x="526" y="393" width="3" height="1" fill="#c0c0c0"/>
<rect x="532" y="393" width="3" height="1" fill="#c0c0c0"/>
<rect x="538" y="393" width="3" height="1" fill="#c0c0c0"/>
<rect x="544" y="393" width="3" height="1" fill="#c0c0c0"/>
<rect x="550" y="393" width="3" height="1" fill="#c0c0c0"/>
<rect x="556" y="393" width="3" height="1" fill="#c0c0c0"/>
<rect x="562" y="393" width="3" height="1" fill="#c0c0c0"/>
<rect x="568" y="393" width="3" height="1" fill="#c0c0c0"/>
<rect x="574" y="393" width="3" height="1" fill="#c0c0c0"/>
<rect x="580" y="393" width="3" height="1" fill="#c0c0c0"/>
<rect x="586" y="393" width="3" height="1" fill="#c0c0c0"/>
<rect x="592" y="393" width="3" height="1" fill="#c0c0c0"/>
<rect x="598" y="393" width="3" height="1" fill="#c0c0c0"/>
<rect x="604" y="393" width="3" height="1" fill="#c0c0c0"/>
<rect x="610" y="393" width="3" height="1" fill="#c0c0c0"/>
<rect x="616" y="393" width="3" height="1" fill="#c0c0c0"/>
<rect x="622" y="393" width="3" height="1" fill="#c0c0c0"/>
<rect x="628" y="393" width="3" height="1" fill="#c0c0c0"/>
<rect x="634" y="393" width="3" height="1" fill="#c0c0c0"/>
<rect x="640" y="393" width="3" height="1" fill="#c0c0c0"/>
<rect x="646" y="393" width="3" height="1" fill="#c0c0c0"/>
<rect x="652" y="393" width="2" height="1" fill="#c0c0c0"/>
<rect x="4" y="402" width="3" height="1" fill="#c0c0c0"/>
<rect x="10" y="402" width="3" height="1" fill="#c0c0c0"/>
<rect x="16" y="402" width="3" height="1" fill="#c0c0c0"/>
<rect x="22" y="402" width="3" height="1" fill="#c0c0c0"/>
<rect x="28" y="402" width="3" height="1" fill="#c0c0c0"/>
<rect x="34" y="402" width="3" height="1" fill="#c0c0c0"/>
<rect x="40" y="402" width="3" height="1" fill="#c0c0c0"/>
<rect x="46" y="402" width="3" height="1" fill="#c0c0c0"/>
<rect x="52" y="402" width="3" height="1" fill="#c0c0c0"/>
<rect x="58" y="402" width="3" height="1" fill="#c0c0c0"/>
<rect x="64" y="402" width="3" height="1" fill="#c0c0c0"/>
<rect x="70" y="402" width="3" height="1" fill="#c0c0c0"/>
<rect x="76" y="402" width="3" height="1" fill="#c0c0c0"/>
<rect x="82" y="402" width="3" height="1" fill="#c0c0c0"/>
<rect x="88" y="402" width="3" height="1" fill="#c0c0c0"/>
<rect x="94" y="402" width="3" height="1" fill="#c0c0c0"/>
<rect x="100" y="402" width="3" height="1" fill="#c0c0c0"/>
<rect x="106" y="402" width="3" height="1" fill="#c0c0c0"/>
<rect x="112" y="402" width="3" height="1" fill="#c0c0c0"/>
<rect x="118" y="402" width="3" height="1" fill="#c0c0c0"/>
<rect x="124" y="402" width="3" height="1" fill="#c0c0c0"/>
<rect x="130" y="402" width="3" height="1" fill="#c0c0c0"/>
<rect x="136" y="402" width="3" height="1" fill="#c0c0c0"/>
<rect x="142" y="402" width="3" height="1" fill="#c0c0c0"/>
<rect x="148" y="402" width="3" height="1" fill="#c0c0c0"/>
<rect x="154" y="402" width="3" height="1" fill="#c0c0c0"/>
<rect x="160" y="402" width="3" height="1" fill="#c0c0c0"/>
<rect x="166" y="402" width="3" height="1" fill="#c0c0c0"/>
<rect x="172" y="402" width="3" height="1" fill="#c0c0c0"/>
<rect x="178" y="402" width="3" height="1" fill="#c0c0c0"/>
<rect x="184" y="402" width="3" height="1" fill="#c0c0c0"/>
<rect x="190" y="402" width="3" height="1" fill="#c0c0c0"/>
<rect x="196" y="402" width="3" height="1" fill="#c0c0c0"/>
<rect x="202" y="402" width="3" height="1" fill="#c0c0c0"/>
<rect x="208" y="402" width="3" height="1" fill="#c0c0c0"/>
<rect x="214" y="402" width="3" height="1" fill="#c0c0c0"/>
<rect x="220" y="402" width="3" height="1" fill="#c0c0c0"/>
<rect x="226" y="402" width="3" height="1" fill="#c0c0c0"/>
<rect x="232" y="402" width="3" height="1" fill="#c0c0c0"/>
<rect x="238" y="402" width="3" height="1" fill="#c0c0c0"/>
<rect x="244" y="402" width="3" height="1" fill="#c0c0c0"/>
<rect x="250" y="402" width="3" height="1" fill="#c0c0c0"/>
<rect x="256" y="402" width="3" height="1" fill="#c0c0c0"/>
<rect x="262" y="402" width="3" height="1" fill="#c0c0c0"/>
<rect x="268" y="402" width="3" height="1" fill="#c0c0c0"/>
<rect x="274" y="402" width="3" height="1" fill="#c0c0c0"/>
<rect x="280" y="402" width="3" height="1" fill="#c0c0c0"/>
<rect x="286" y="402" width="3" height="1" fill="#c0c0c0"/>
<rect x="292" y="402" width="3" height="1" fill="#c0c0c0"/>
<rect x="298" y="402" width="3" height="1" fill="#c0c0c0"/>
<rect x="304" y="402" width="3" height="1" fill="#c0c0c0"/>
<rect x="310" y="402" width="3" height="1" fill="#c0c0c0"/>
<rect x="316" y="402" width="3" height="1" fill="#c0c0c0"/>
<rect x="322" y="402" width="3" height="1" fill="#c0c0c0"/>
<rect x="328" y="402" width="3" height="1" fill="#c0c0c0"/>
<rect x="334" y="402" width="3" height="1" fill="#c0c0c0"/>
<rect x="340" y="402" width="3" height="1" fill="#c0c0c0"/>
<rect x="346" y="402" width="3" height="1" fill="#c0c0c0"/>
<rect x="352" y="402" width="3" height="1" fill="#c0c0c0"/>
<rect x="358" y="402" width="3" height="1" fill="#c0c0c0"/>
<rect x="364" y="402" width="3" height="1" fill="#c0c0c0"/>
<rect x="370" y="402" width="3" height="1" fill="#c0c0c0"/>
<rect x="376" y="402" width="3" height="1" fill="#c0c0c0"/>
<rect x="382" y="402" width="3" height="1" fill="#c0c0c0"/>
<rect x="388" y="402" width="3" height="1" fill="#c0c0c0"/>
<rect x="394" y="402" width="3" height="1" fill="#c0c0c0"/>
<rect x="400" y="402" width="3" height="1" fill="#c0c0c0"/>
<rect x="406" y="402" width="3" height="1" fill="#c0c0c0"/>
<rect x="412" y="402" width="3" height="1" fill="#c0c0c0"/>
<rect x="418" y="402" width="3" height="1" fill="#c0c0c0"/>
<rect x="424" y="402" width="3" height="1" fill="#c0c0c0"/>
<rect x="430" y="402" width="3" height="1" fill="#c0c0c0"/>
<rect x="436" y="402" width="3" height="1" fill="#c0c0c0"/>
<rect x="442" y="402" width="3" height="1" fill="#c0c0c0"/>
<rect x="448" y="402" width="3" height="1" fill="#c0c0c0"/>
<rect x="454" y="402" width="3" height="1" fill="#c0c0c0"/>
<rect x="460" y="402" width="3" height="1" fill="#c0c0c0"/>
<rect x="466" y="402" width="3" height="1" fill="#c0c0c0"/>
<rect x="472" y="402" width="3" height="1" fill="#c0c0c0"/>
<rect x="478" y="402" width="3" height="1" fill="#c0c0c0"/>
<rect x="484" y="402" width="3" height="1" fill="#c0c0c0"/>
<rect x="490" y="402" width="3" height="1" fill="#c0c0c0"/>
<rect x="496" y="402" width="3" height="1" fill="#c0c0c0"/>
<rect x="502" y="402" width="3" height="1" fill="#c0c0c0"/>
<rect x="508" y="402" width="3" height="1" fill="#c0c0c0"/>
<rect x="514" y="402" width="3" height="1" fill="#c0c0c0"/>
<rect x="520" y="402" width="3" height="1" fill="#c0c0c0"/>
<rect x="526" y="402" width="3" height="1" fill="#c0c0c0"/>
<rect x="532" y="402" width="3" height="1" fill="#c0c0c0"/>
<rect x="538" y="402" width="3" height="1" fill="#c0c0c0"/>
<rect x="544" y="402" width="3" height="1" fill="#c0c0c0"/>
<rect x="550" y="402" width="3" height="1" fill="#c0c0c0"/>
<rect x="556" y="402" width="3" height="1" fill="#c0c0c0"/>
<rect x="562" y="402" width="3" height="1" fill="#c0c0c0"/>
<rect x="568" y="402" width="3" height="1" fill="#c0c0c0"/>
<rect x="574" y="402" width="3" height="1" fill="#c0c0c0"/>
<rect x="580" y="402" width="3" height="1" fill="#c0c0c0"/>
<rect x="586" y="402" width="3" height="1" fill="#c0c0c0"/>
<rect x="592" y="402" width="3" height="1" fill="#c0c0c0"/>
<rect x="598" y="402" width="3" height="1" fill="#c0c0c0"/>
<rect x="604" y="402" width="3" height="1" fill="#c0c0c0"/>
<rect x="610" y="402" width="3" height="1" fill="#c0c0c0"/>
<rect x="616" y="402" width="3" height="1" fill="#c0c0c0"/>
<rect x="622" y="402" width="3" height="1" fill="#c0c0c0"/>
<rect x="628" y="402" width="3" height="1" fill="#c0c0c0"/>
<rect x="634" y="402" width="3" height="1" fill="#c0c0c0"/>
<rect x="640" y="402" width="3" height="1" fill="#c0c0c0"/>
<rect x="646" y="402" width="3" height="1" fill="#c0c0c0"/>
<rect x="652" y="402" width="2" height="1" fill="#c0c0c0"/>
<rect x="4" y="412" width="3" height="1" fill="#c0c0c0"/>
<rect x="10" y="412" width="3" height="1" fill="#c0c0c0"/>
<rect x="16" y="412" width="3" height="1" fill="#c0c0c0"/>
<rect x="22" y="412" width="3" height="1" fill="#c0c0c0"/>
<rect x="28" y="412" width="3" height="1" fill="#c0c0c0"/>
<rect x="34" y="412" width="3" height="1" fill="#c0c0c0"/>
<rect x="40" y="412" width="3" height="1" fill="#c0c0c0"/>
<rect x="46" y="412" width="3" height="1" fill="#c0c0c0"/>
<rect x="52" y="412" width="3" height="1" fill="#c0c0c0"/>
<rect x="58" y="412" width="3" height="1" fill="#c0c0c0"/>
<rect x="64" y="412" width="3" height="1" fill="#c0c0c0"/>
<rect x="70" y="412" width="3" height="1" fill="#c0c0c0"/>
<rect x="76" y="412" width="3" height="1" fill="#c0c0c0"/>
<rect x="82" y="412" width="3" height="1" fill="#c0c0c0"/>
<rect x="88" y="412" width="3" height="1" fill="#c0c0c0"/>
<rect x="94" y="412" width="3" height="1" fill="#c0c0c0"/>
<rect x="100" y="412" width="3" height="1" fill="#c0c0c0"/>
<rect x="106" y="412" width="3" height="1" fill="#c0c0c0"/>
<rect x="112" y="412" width="3" height="1" fill="#c0c0c0"/>
<rect x="118" y="412" width="3" height="1" fill="#c0c0c0"/>
<rect x="124" y="412" width="3" height="1" fill="#c0c0c0"/>
<rect x="130" y="412" width="3" height="1" fill="#c0c0c0"/>
<rect x="136" y="412" width="3" height="1" fill="#c0c0c0"/>
<rect x="142" y="412" width="3" height="1" fill="#c0c0c0"/>
<rect x="148" y="412" width="3" height="1" fill="#c0c0c0"/>
<rect x="154" y="412" width="3" height="1" fill="#c0c0c0"/>
<rect x="160" y="412" width="3" height="1" fill="#c0c0c0"/>
<rect x="166" y="412" width="3" height="1" fill="#c0c0c0"/>
<rect x="172" y="412" width="3" height="1" fill="#c0c0c0"/>
<rect x="178" y="412" width="3" height="1" fill="#c0c0c0"/>
<rect x="184" y="412" width="3" height="1" fill="#c0c0c0"/>
<rect x="190" y="412" width="3" height="1" fill="#c0c0c0"/>
<rect x="196" y="412" width="3" height="1" fill="#c0c0c0"/>
<rect x="202" y="412" width="3" height="1" fill="#c0c0c0"/>
<rect x="208" y="412" width="3" height="1" fill="#c0c0c0"/>
<rect x="214" y="412" width="3" height="1" fill="#c0c0c0"/>
<rect x="220" y="412" width="3" height="1" fill="#c0c0c0"/>
<rect x="226" y="412" width="3" height="1" fill="#c0c0c0"/>
<rect x="232" y="412" width="3" height="1" fill="#c0c0c0"/>
<rect x="238" y="412" width="3" height="1" fill="#c0c0c0"/>
<rect x="244" y="412" width="3" height="1" fill="#c0c0c0"/>
<rect x="250" y="412" width="3" height="1" fill="#c0c0c0"/>
<rect x="256" y="412" width="3" height="1" fill="#c0c0c0"/>
<rect x="262" y="412" width="3" height="1" fill="#c0c0c0"/>
<rect x="268" y="412" width="3" height="1" fill="#c0c0c0"/>
<rect x="274" y="412" width="3" height="1" fill="#c0c0c0"/>
<rect x="280" y="412" width="3" height="1" fill="#c0c0c0"/>
<rect x="286" y="412" width="3" height="1" fill="#c0c0c0"/>
<rect x="292" y="412" width="3" height="1" fill="#c0c0c0"/>
<rect x="298" y="412" width="3" height="1" fill="#c0c0c0"/>
<rect x="304" y="412" width="3" height="1" fill="#c0c0c0"/>
<rect x="310" y="412" width="3" height="1" fill="#c0c0c0"/>
<rect x="316" y="412" width="3" height="1" fill="#c0c0c0"/>
<rect x="322" y="412" width="3" height="1" fill="#c0c0c0"/>
<rect x="328" y="412" width="3" height="1" fill="#c0c0c0"/>
<rect x="334" y="412" width="3" height="1" fill="#c0c0c0"/>
<rect x="340" y="412" width="3" height="1" fill="#c0c0c0"/>
<rect x="346" y="412" width="3" height="1" fill="#c0c0c0"/>
<rect x="352" y="412" width="3" height="1" fill="#c0c0c0"/>
<rect x="358" y="412" width="3" height="1" fill="#c0c0c0"/>
<rect x="364" y="412" width="3" height="1" fill="#c0c0c0"/>
<rect x="370" y="412" width="3" height="1" fill="#c0c0c0"/>
<rect x="376" y="412" width="3" height="1" fill="#c0c0c0"/>
<rect x="382" y="412" width="3" height="1" fill="#c0c0c0"/>
<rect x="388" y="412" width="3" height="1" fill="#c0c0c0"/>
<rect x="394" y="412" width="3" height="1" fill="#c0c0c0"/>
<rect x="400" y="412" width="3" height="1" fill="#c0c0c0"/>
<rect x="406" y="412" width="3" height="1" fill="#c0c0c0"/>
<rect x="412" y="412" width="3" height="1" fill="#c0c0c0"/>
<rect x="418" y="412" width="3" height="1" fill="#c0c0c0"/>
<rect x="424" y="412" width="3" height="1" fill="#c0c0c0"/>
<rect x="430" y="412" width="3" height="1" fill="#c0c0c0"/>
<rect x="436" y="412" width="3" height="1" fill="#c0c0c0"/>
<rect x="442" y="412" width="3" height="1" fill="#c0c0c0"/>
<rect x="448" y="412" width="3" height="1" fill="#c0c0c0"/>
<rect x="454" y="412" width="3" height="1" fill="#c0c0c0"/>
<rect x="460" y="412" width="3" height="1" fill="#c0c0c0"/>
<rect x="466" y="412" width="3" height="1" fill="#c0c0c0"/>
<rect x="472" y="412" width="3" height="1" fill="#c0c0c0"/>
<rect x="478" y="412" width="3" height="1" fill="#c0c0c0"/>
<rect x="484" y="412" width="3" height="1" fill="#c0c0c0"/>
<rect x="490" y="412" width="3" height="1" fill="#c0c0c0"/>
<rect x="496" y="412" width="3" height="1" fill="#c0c0c0"/>
<rect x="502" y="412" width="3" height="1" fill="#c0c0c0"/>
<rect x="508" y="412" width="3" height="1" fill="#c0c0c0"/>
<rect x="514" y="412" width="3" height="1" fill="#c0c0c0"/>
<rect x="520" y="412" width="3" height="1" fill="#c0c0c0"/>
<rect x="526" y="412" width="3" height="1" fill="#c0c0c0"/>
<rect x="532" y="412" width="3" height="1" fill="#c0c0c0"/>
<rect x="538" y="412" width="3" height="1" fill="#c0c0c0"/>
<rect x="544" y="412" width="3" height="1" fill="#c0c0c0"/>
<rect x="550" y="412" width="3" height="1" fill="#c0c0c0"/>
<rect x="556" y="412" width="3" height="1" fill="#c0c0c0"/>
<rect x="562" y="412" width="3" height="1" fill="#c0c0c0"/>
<rect x="568" y="412" width="3" height="1" fill="#c0c0c0"/>
<rect x="574" y="412" width="3" height="1" fill="#c0c0c0"/>
<rect x="580" y="412" width="3" height="1" fill="#c0c0c0"/>
<rect x="586" y="412" width="3" height="1" fill="#c0c0c0"/>
<rect x="592" y="412" width="3" height="1" fill="#c0c0c0"/>
<rect x="598" y="412" width="3" height="1" fill="#c0c0c0"/>
<rect x="604" y="412" width="3" height="1" fill="#c0c0c0"/>
<rect x="610" y="412" width="3" height="1" fill="#c0c0c0"/>
<rect x="616" y="412" width="3" height="1" fill="#c0c0c0"/>
<rect x="622" y="412" width="3" height="1" fill="#c0c0c0"/>
<rect x="628" y="412" width="3" height="1" fill="#c0c0c0"/>
<rect x="634" y="412" width="3" height="1" fill="#c0c0c0"/>
<rect x="640" y="412" width="3" height="1" fill="#c0c0c0"/>
<rect x="646" y="412" width="3" height="1" fill="#c0c0c0"/>
<rect x="652" y="412" width="2" height="1" fill="#c0c0c0"/>
<polyline points="3.0,407.7 12.9,402.6 20.6,402.6 25.7,405.5 31.7,405.5 35.7,411.7 40.3,410.0 45.5,408.6 50.6,405.5 56.6,402.6 61.7,400.4 64.3,400.4 67.8,403.8 72.0,401.4 75.5,402.6 79.2,406.5 82.3,403.4 86.6,401.4 90.0,401.4 93.5,402.6 99.5,406.5 106.3,407.7 110.0,407.1 114.6,409.4 120.3,409.4 123.7,407.8 128.3,407.8 132.9,411.7 144.3,412.9 151.0,416.3 156.9,411.7 163.7,405.5 169.4,406.5 175.0,408.7 179.7,410.6 183.6,412.4 188.9,410.0 195.7,410.0 201.4,407.8 207.0,407.8 210.6,410.0 217.4,411.0 223.0,411.7 227.7,416.3 232.3,416.3 238.0,409.4 241.4,407.1 246.0,407.1 250.6,404.9 255.0,402.6 258.6,404.2 262.0,402.6 264.6,401.9 268.0,401.9 271.4,406.5 276.0,407.8 280.6,407.1 284.0,409.4 288.6,409.4 292.0,411.0 297.7,407.8 305.7,407.8 311.4,405.5 319.4,404.2 325.0,407.8 330.9,412.4 335.4,416.3 341.1,412.4 348.0,414.0 351.4,407.1 356.0,409.4 360.6,410.0 367.4,409.4 372.0,404.2 375.4,404.9 380.0,407.1 383.4,406.5 386.9,404.2 390.3,406.0 397.1,406.0 406.3,406.0 410.0,406.0 414.6,404.2 420.3,404.2 423.7,407.1 427.0,404.9 435.0,404.9 439.7,407.1 444.3,407.1 447.7,409.4 452.3,406.5 455.7,403.3 459.0,405.5 463.7,405.5 467.0,407.8 470.6,406.0 475.0,407.1 480.9,407.1 485.4,405.5 492.3,404.2 501.4,404.2 506.0,401.9 511.7,401.9 515.0,407.1 519.7,410.6 524.3,405.5 527.7,404.2 531.6,399.1 535.7,403.3 542.6,405.5 547.0,405.5 551.4,403.3 560.6,403.7 566.3,401.4 570.9,403.3 581.0,404.2 594.9,404.2 601.7,402.6 606.3,401.0 610.9,404.2 615.4,411.0 620.0,410.0 623.4,410.1 626.9,411.7" fill="none" stroke="#0000ff" stroke-width="1" shape-rendering="crispEdges" stroke-linejoin="round"/>
<polyline points="3.0,407.7 8.6,407.2 13.7,405.5 25.7,405.5 34.3,406.9 41.2,407.7 51.5,406.9 60.0,404.8 68.6,403.8 77.2,403.1 94.3,403.1 102.9,404.8 110.0,405.5 121.4,407.8 132.9,409.4 144.3,411.0 152.3,412.4 160.3,411.0 167.1,409.4 178.6,409.9 187.7,410.6 201.4,409.4 210.6,409.0 222.0,410.1 231.1,412.4 238.0,412.4 247.1,410.1 256.3,408.3 260.0,407.1 266.9,404.9 278.3,406.5 292.0,408.3 305.7,407.8 319.4,406.0 328.6,407.8 340.0,411.0 351.4,411.7 360.6,410.0 369.7,408.7 378.9,407.8 388.0,406.5 401.7,406.0 410.0,406.0 419.0,404.9 432.9,404.9 446.6,406.5 455.7,406.0 469.4,406.0 483.1,406.5 496.9,404.9 510.6,404.2 519.7,405.5 528.9,404.2 538.0,404.2 551.7,404.2 562.9,403.7 585.7,403.7 608.6,403.3 617.7,405.5 626.9,407.8" fill="none" stroke="#ff0000" stroke-width="1" shape-rendering="crispEdges" stroke-linejoin="round"/>
<text x="7" y="390" font-size="10" fill="#000" stroke="#000" stroke-width="0.25" textLength="31.5" lengthAdjust="spacingAndGlyphs" xml:space="preserve">RSI(14)</text>
<text x="42" y="390" font-size="10" fill="#000" stroke="#000" stroke-width="0.25" textLength="33.5" lengthAdjust="spacingAndGlyphs" xml:space="preserve">29.2380</text>
<text x="81" y="390" font-size="10" fill="#000" stroke="#000" stroke-width="0.25" textLength="36.5" lengthAdjust="spacingAndGlyphs" xml:space="preserve">-&gt;MA(9)</text>
<text x="120.3" y="390" font-size="10" fill="#000" stroke="#000" stroke-width="0.25" textLength="33.5" lengthAdjust="spacingAndGlyphs" xml:space="preserve">38.8453</text>
<rect x="655" y="379" width="1" height="1" fill="#000"/>
<text x="658.1" y="388" font-size="10" fill="#000" stroke="#000" stroke-width="0.25" textLength="15.3" lengthAdjust="spacingAndGlyphs" xml:space="preserve">100</text>
<rect x="655" y="393" width="1" height="1" fill="#000"/>
<text x="657.2" y="397" font-size="10" fill="#000" stroke="#000" stroke-width="0.25" textLength="10.2" lengthAdjust="spacingAndGlyphs" xml:space="preserve">70</text>
<rect x="655" y="402" width="1" height="1" fill="#000"/>
<text x="657.2" y="406" font-size="10" fill="#000" stroke="#000" stroke-width="0.25" textLength="10.2" lengthAdjust="spacingAndGlyphs" xml:space="preserve">50</text>
<rect x="655" y="412" width="1" height="1" fill="#000"/>
<text x="657.2" y="416" font-size="10" fill="#000" stroke="#000" stroke-width="0.25" textLength="10.2" lengthAdjust="spacingAndGlyphs" xml:space="preserve">30</text>
<rect x="655" y="426" width="1" height="1" fill="#000"/>
<text x="658.2" y="424" font-size="10" fill="#000" stroke="#000" stroke-width="0.25" textLength="5.1" lengthAdjust="spacingAndGlyphs" xml:space="preserve">0</text>
<rect x="4" y="441" width="3" height="1" fill="#c0c0c0"/>
<rect x="10" y="441" width="3" height="1" fill="#c0c0c0"/>
<rect x="16" y="441" width="3" height="1" fill="#c0c0c0"/>
<rect x="22" y="441" width="3" height="1" fill="#c0c0c0"/>
<rect x="28" y="441" width="3" height="1" fill="#c0c0c0"/>
<rect x="34" y="441" width="3" height="1" fill="#c0c0c0"/>
<rect x="40" y="441" width="3" height="1" fill="#c0c0c0"/>
<rect x="46" y="441" width="3" height="1" fill="#c0c0c0"/>
<rect x="52" y="441" width="3" height="1" fill="#c0c0c0"/>
<rect x="58" y="441" width="3" height="1" fill="#c0c0c0"/>
<rect x="64" y="441" width="3" height="1" fill="#c0c0c0"/>
<rect x="70" y="441" width="3" height="1" fill="#c0c0c0"/>
<rect x="76" y="441" width="3" height="1" fill="#c0c0c0"/>
<rect x="82" y="441" width="3" height="1" fill="#c0c0c0"/>
<rect x="88" y="441" width="3" height="1" fill="#c0c0c0"/>
<rect x="94" y="441" width="3" height="1" fill="#c0c0c0"/>
<rect x="100" y="441" width="3" height="1" fill="#c0c0c0"/>
<rect x="106" y="441" width="3" height="1" fill="#c0c0c0"/>
<rect x="112" y="441" width="3" height="1" fill="#c0c0c0"/>
<rect x="118" y="441" width="3" height="1" fill="#c0c0c0"/>
<rect x="124" y="441" width="3" height="1" fill="#c0c0c0"/>
<rect x="130" y="441" width="3" height="1" fill="#c0c0c0"/>
<rect x="136" y="441" width="3" height="1" fill="#c0c0c0"/>
<rect x="142" y="441" width="3" height="1" fill="#c0c0c0"/>
<rect x="148" y="441" width="3" height="1" fill="#c0c0c0"/>
<rect x="154" y="441" width="3" height="1" fill="#c0c0c0"/>
<rect x="160" y="441" width="3" height="1" fill="#c0c0c0"/>
<rect x="166" y="441" width="3" height="1" fill="#c0c0c0"/>
<rect x="172" y="441" width="3" height="1" fill="#c0c0c0"/>
<rect x="178" y="441" width="3" height="1" fill="#c0c0c0"/>
<rect x="184" y="441" width="3" height="1" fill="#c0c0c0"/>
<rect x="190" y="441" width="3" height="1" fill="#c0c0c0"/>
<rect x="196" y="441" width="3" height="1" fill="#c0c0c0"/>
<rect x="202" y="441" width="3" height="1" fill="#c0c0c0"/>
<rect x="208" y="441" width="3" height="1" fill="#c0c0c0"/>
<rect x="214" y="441" width="3" height="1" fill="#c0c0c0"/>
<rect x="220" y="441" width="3" height="1" fill="#c0c0c0"/>
<rect x="226" y="441" width="3" height="1" fill="#c0c0c0"/>
<rect x="232" y="441" width="3" height="1" fill="#c0c0c0"/>
<rect x="238" y="441" width="3" height="1" fill="#c0c0c0"/>
<rect x="244" y="441" width="3" height="1" fill="#c0c0c0"/>
<rect x="250" y="441" width="3" height="1" fill="#c0c0c0"/>
<rect x="256" y="441" width="3" height="1" fill="#c0c0c0"/>
<rect x="262" y="441" width="3" height="1" fill="#c0c0c0"/>
<rect x="268" y="441" width="3" height="1" fill="#c0c0c0"/>
<rect x="274" y="441" width="3" height="1" fill="#c0c0c0"/>
<rect x="280" y="441" width="3" height="1" fill="#c0c0c0"/>
<rect x="286" y="441" width="3" height="1" fill="#c0c0c0"/>
<rect x="292" y="441" width="3" height="1" fill="#c0c0c0"/>
<rect x="298" y="441" width="3" height="1" fill="#c0c0c0"/>
<rect x="304" y="441" width="3" height="1" fill="#c0c0c0"/>
<rect x="310" y="441" width="3" height="1" fill="#c0c0c0"/>
<rect x="316" y="441" width="3" height="1" fill="#c0c0c0"/>
<rect x="322" y="441" width="3" height="1" fill="#c0c0c0"/>
<rect x="328" y="441" width="3" height="1" fill="#c0c0c0"/>
<rect x="334" y="441" width="3" height="1" fill="#c0c0c0"/>
<rect x="340" y="441" width="3" height="1" fill="#c0c0c0"/>
<rect x="346" y="441" width="3" height="1" fill="#c0c0c0"/>
<rect x="352" y="441" width="3" height="1" fill="#c0c0c0"/>
<rect x="358" y="441" width="3" height="1" fill="#c0c0c0"/>
<rect x="364" y="441" width="3" height="1" fill="#c0c0c0"/>
<rect x="370" y="441" width="3" height="1" fill="#c0c0c0"/>
<rect x="376" y="441" width="3" height="1" fill="#c0c0c0"/>
<rect x="382" y="441" width="3" height="1" fill="#c0c0c0"/>
<rect x="388" y="441" width="3" height="1" fill="#c0c0c0"/>
<rect x="394" y="441" width="3" height="1" fill="#c0c0c0"/>
<rect x="400" y="441" width="3" height="1" fill="#c0c0c0"/>
<rect x="406" y="441" width="3" height="1" fill="#c0c0c0"/>
<rect x="412" y="441" width="3" height="1" fill="#c0c0c0"/>
<rect x="418" y="441" width="3" height="1" fill="#c0c0c0"/>
<rect x="424" y="441" width="3" height="1" fill="#c0c0c0"/>
<rect x="430" y="441" width="3" height="1" fill="#c0c0c0"/>
<rect x="436" y="441" width="3" height="1" fill="#c0c0c0"/>
<rect x="442" y="441" width="3" height="1" fill="#c0c0c0"/>
<rect x="448" y="441" width="3" height="1" fill="#c0c0c0"/>
<rect x="454" y="441" width="3" height="1" fill="#c0c0c0"/>
<rect x="460" y="441" width="3" height="1" fill="#c0c0c0"/>
<rect x="466" y="441" width="3" height="1" fill="#c0c0c0"/>
<rect x="472" y="441" width="3" height="1" fill="#c0c0c0"/>
<rect x="478" y="441" width="3" height="1" fill="#c0c0c0"/>
<rect x="484" y="441" width="3" height="1" fill="#c0c0c0"/>
<rect x="490" y="441" width="3" height="1" fill="#c0c0c0"/>
<rect x="496" y="441" width="3" height="1" fill="#c0c0c0"/>
<rect x="502" y="441" width="3" height="1" fill="#c0c0c0"/>
<rect x="508" y="441" width="3" height="1" fill="#c0c0c0"/>
<rect x="514" y="441" width="3" height="1" fill="#c0c0c0"/>
<rect x="520" y="441" width="3" height="1" fill="#c0c0c0"/>
<rect x="526" y="441" width="3" height="1" fill="#c0c0c0"/>
<rect x="532" y="441" width="3" height="1" fill="#c0c0c0"/>
<rect x="538" y="441" width="3" height="1" fill="#c0c0c0"/>
<rect x="544" y="441" width="3" height="1" fill="#c0c0c0"/>
<rect x="550" y="441" width="3" height="1" fill="#c0c0c0"/>
<rect x="556" y="441" width="3" height="1" fill="#c0c0c0"/>
<rect x="562" y="441" width="3" height="1" fill="#c0c0c0"/>
<rect x="568" y="441" width="3" height="1" fill="#c0c0c0"/>
<rect x="574" y="441" width="3" height="1" fill="#c0c0c0"/>
<rect x="580" y="441" width="3" height="1" fill="#c0c0c0"/>
<rect x="586" y="441" width="3" height="1" fill="#c0c0c0"/>
<rect x="592" y="441" width="3" height="1" fill="#c0c0c0"/>
<rect x="598" y="441" width="3" height="1" fill="#c0c0c0"/>
<rect x="604" y="441" width="3" height="1" fill="#c0c0c0"/>
<rect x="610" y="441" width="3" height="1" fill="#c0c0c0"/>
<rect x="616" y="441" width="3" height="1" fill="#c0c0c0"/>
<rect x="622" y="441" width="3" height="1" fill="#c0c0c0"/>
<rect x="628" y="441" width="3" height="1" fill="#c0c0c0"/>
<rect x="634" y="441" width="3" height="1" fill="#c0c0c0"/>
<rect x="640" y="441" width="3" height="1" fill="#c0c0c0"/>
<rect x="646" y="441" width="3" height="1" fill="#c0c0c0"/>
<rect x="652" y="441" width="2" height="1" fill="#c0c0c0"/>
<rect x="4" y="456" width="3" height="1" fill="#c0c0c0"/>
<rect x="10" y="456" width="3" height="1" fill="#c0c0c0"/>
<rect x="16" y="456" width="3" height="1" fill="#c0c0c0"/>
<rect x="22" y="456" width="3" height="1" fill="#c0c0c0"/>
<rect x="28" y="456" width="3" height="1" fill="#c0c0c0"/>
<rect x="34" y="456" width="3" height="1" fill="#c0c0c0"/>
<rect x="40" y="456" width="3" height="1" fill="#c0c0c0"/>
<rect x="46" y="456" width="3" height="1" fill="#c0c0c0"/>
<rect x="52" y="456" width="3" height="1" fill="#c0c0c0"/>
<rect x="58" y="456" width="3" height="1" fill="#c0c0c0"/>
<rect x="64" y="456" width="3" height="1" fill="#c0c0c0"/>
<rect x="70" y="456" width="3" height="1" fill="#c0c0c0"/>
<rect x="76" y="456" width="3" height="1" fill="#c0c0c0"/>
<rect x="82" y="456" width="3" height="1" fill="#c0c0c0"/>
<rect x="88" y="456" width="3" height="1" fill="#c0c0c0"/>
<rect x="94" y="456" width="3" height="1" fill="#c0c0c0"/>
<rect x="100" y="456" width="3" height="1" fill="#c0c0c0"/>
<rect x="106" y="456" width="3" height="1" fill="#c0c0c0"/>
<rect x="112" y="456" width="3" height="1" fill="#c0c0c0"/>
<rect x="118" y="456" width="3" height="1" fill="#c0c0c0"/>
<rect x="124" y="456" width="3" height="1" fill="#c0c0c0"/>
<rect x="130" y="456" width="3" height="1" fill="#c0c0c0"/>
<rect x="136" y="456" width="3" height="1" fill="#c0c0c0"/>
<rect x="142" y="456" width="3" height="1" fill="#c0c0c0"/>
<rect x="148" y="456" width="3" height="1" fill="#c0c0c0"/>
<rect x="154" y="456" width="3" height="1" fill="#c0c0c0"/>
<rect x="160" y="456" width="3" height="1" fill="#c0c0c0"/>
<rect x="166" y="456" width="3" height="1" fill="#c0c0c0"/>
<rect x="172" y="456" width="3" height="1" fill="#c0c0c0"/>
<rect x="178" y="456" width="3" height="1" fill="#c0c0c0"/>
<rect x="184" y="456" width="3" height="1" fill="#c0c0c0"/>
<rect x="190" y="456" width="3" height="1" fill="#c0c0c0"/>
<rect x="196" y="456" width="3" height="1" fill="#c0c0c0"/>
<rect x="202" y="456" width="3" height="1" fill="#c0c0c0"/>
<rect x="208" y="456" width="3" height="1" fill="#c0c0c0"/>
<rect x="214" y="456" width="3" height="1" fill="#c0c0c0"/>
<rect x="220" y="456" width="3" height="1" fill="#c0c0c0"/>
<rect x="226" y="456" width="3" height="1" fill="#c0c0c0"/>
<rect x="232" y="456" width="3" height="1" fill="#c0c0c0"/>
<rect x="238" y="456" width="3" height="1" fill="#c0c0c0"/>
<rect x="244" y="456" width="3" height="1" fill="#c0c0c0"/>
<rect x="250" y="456" width="3" height="1" fill="#c0c0c0"/>
<rect x="256" y="456" width="3" height="1" fill="#c0c0c0"/>
<rect x="262" y="456" width="3" height="1" fill="#c0c0c0"/>
<rect x="268" y="456" width="3" height="1" fill="#c0c0c0"/>
<rect x="274" y="456" width="3" height="1" fill="#c0c0c0"/>
<rect x="280" y="456" width="3" height="1" fill="#c0c0c0"/>
<rect x="286" y="456" width="3" height="1" fill="#c0c0c0"/>
<rect x="292" y="456" width="3" height="1" fill="#c0c0c0"/>
<rect x="298" y="456" width="3" height="1" fill="#c0c0c0"/>
<rect x="304" y="456" width="3" height="1" fill="#c0c0c0"/>
<rect x="310" y="456" width="3" height="1" fill="#c0c0c0"/>
<rect x="316" y="456" width="3" height="1" fill="#c0c0c0"/>
<rect x="322" y="456" width="3" height="1" fill="#c0c0c0"/>
<rect x="328" y="456" width="3" height="1" fill="#c0c0c0"/>
<rect x="334" y="456" width="3" height="1" fill="#c0c0c0"/>
<rect x="340" y="456" width="3" height="1" fill="#c0c0c0"/>
<rect x="346" y="456" width="3" height="1" fill="#c0c0c0"/>
<rect x="352" y="456" width="3" height="1" fill="#c0c0c0"/>
<rect x="358" y="456" width="3" height="1" fill="#c0c0c0"/>
<rect x="364" y="456" width="3" height="1" fill="#c0c0c0"/>
<rect x="370" y="456" width="3" height="1" fill="#c0c0c0"/>
<rect x="376" y="456" width="3" height="1" fill="#c0c0c0"/>
<rect x="382" y="456" width="3" height="1" fill="#c0c0c0"/>
<rect x="388" y="456" width="3" height="1" fill="#c0c0c0"/>
<rect x="394" y="456" width="3" height="1" fill="#c0c0c0"/>
<rect x="400" y="456" width="3" height="1" fill="#c0c0c0"/>
<rect x="406" y="456" width="3" height="1" fill="#c0c0c0"/>
<rect x="412" y="456" width="3" height="1" fill="#c0c0c0"/>
<rect x="418" y="456" width="3" height="1" fill="#c0c0c0"/>
<rect x="424" y="456" width="3" height="1" fill="#c0c0c0"/>
<rect x="430" y="456" width="3" height="1" fill="#c0c0c0"/>
<rect x="436" y="456" width="3" height="1" fill="#c0c0c0"/>
<rect x="442" y="456" width="3" height="1" fill="#c0c0c0"/>
<rect x="448" y="456" width="3" height="1" fill="#c0c0c0"/>
<rect x="454" y="456" width="3" height="1" fill="#c0c0c0"/>
<rect x="460" y="456" width="3" height="1" fill="#c0c0c0"/>
<rect x="466" y="456" width="3" height="1" fill="#c0c0c0"/>
<rect x="472" y="456" width="3" height="1" fill="#c0c0c0"/>
<rect x="478" y="456" width="3" height="1" fill="#c0c0c0"/>
<rect x="484" y="456" width="3" height="1" fill="#c0c0c0"/>
<rect x="490" y="456" width="3" height="1" fill="#c0c0c0"/>
<rect x="496" y="456" width="3" height="1" fill="#c0c0c0"/>
<rect x="502" y="456" width="3" height="1" fill="#c0c0c0"/>
<rect x="508" y="456" width="3" height="1" fill="#c0c0c0"/>
<rect x="514" y="456" width="3" height="1" fill="#c0c0c0"/>
<rect x="520" y="456" width="3" height="1" fill="#c0c0c0"/>
<rect x="526" y="456" width="3" height="1" fill="#c0c0c0"/>
<rect x="532" y="456" width="3" height="1" fill="#c0c0c0"/>
<rect x="538" y="456" width="3" height="1" fill="#c0c0c0"/>
<rect x="544" y="456" width="3" height="1" fill="#c0c0c0"/>
<rect x="550" y="456" width="3" height="1" fill="#c0c0c0"/>
<rect x="556" y="456" width="3" height="1" fill="#c0c0c0"/>
<rect x="562" y="456" width="3" height="1" fill="#c0c0c0"/>
<rect x="568" y="456" width="3" height="1" fill="#c0c0c0"/>
<rect x="574" y="456" width="3" height="1" fill="#c0c0c0"/>
<rect x="580" y="456" width="3" height="1" fill="#c0c0c0"/>
<rect x="586" y="456" width="3" height="1" fill="#c0c0c0"/>
<rect x="592" y="456" width="3" height="1" fill="#c0c0c0"/>
<rect x="598" y="456" width="3" height="1" fill="#c0c0c0"/>
<rect x="604" y="456" width="3" height="1" fill="#c0c0c0"/>
<rect x="610" y="456" width="3" height="1" fill="#c0c0c0"/>
<rect x="616" y="456" width="3" height="1" fill="#c0c0c0"/>
<rect x="622" y="456" width="3" height="1" fill="#c0c0c0"/>
<rect x="628" y="456" width="3" height="1" fill="#c0c0c0"/>
<rect x="634" y="456" width="3" height="1" fill="#c0c0c0"/>
<rect x="640" y="456" width="3" height="1" fill="#c0c0c0"/>
<rect x="646" y="456" width="3" height="1" fill="#c0c0c0"/>
<rect x="652" y="456" width="2" height="1" fill="#c0c0c0"/>
<rect x="4" y="472" width="3" height="1" fill="#c0c0c0"/>
<rect x="10" y="472" width="3" height="1" fill="#c0c0c0"/>
<rect x="16" y="472" width="3" height="1" fill="#c0c0c0"/>
<rect x="22" y="472" width="3" height="1" fill="#c0c0c0"/>
<rect x="28" y="472" width="3" height="1" fill="#c0c0c0"/>
<rect x="34" y="472" width="3" height="1" fill="#c0c0c0"/>
<rect x="40" y="472" width="3" height="1" fill="#c0c0c0"/>
<rect x="46" y="472" width="3" height="1" fill="#c0c0c0"/>
<rect x="52" y="472" width="3" height="1" fill="#c0c0c0"/>
<rect x="58" y="472" width="3" height="1" fill="#c0c0c0"/>
<rect x="64" y="472" width="3" height="1" fill="#c0c0c0"/>
<rect x="70" y="472" width="3" height="1" fill="#c0c0c0"/>
<rect x="76" y="472" width="3" height="1" fill="#c0c0c0"/>
<rect x="82" y="472" width="3" height="1" fill="#c0c0c0"/>
<rect x="88" y="472" width="3" height="1" fill="#c0c0c0"/>
<rect x="94" y="472" width="3" height="1" fill="#c0c0c0"/>
<rect x="100" y="472" width="3" height="1" fill="#c0c0c0"/>
<rect x="106" y="472" width="3" height="1" fill="#c0c0c0"/>
<rect x="112" y="472" width="3" height="1" fill="#c0c0c0"/>
<rect x="118" y="472" width="3" height="1" fill="#c0c0c0"/>
<rect x="124" y="472" width="3" height="1" fill="#c0c0c0"/>
<rect x="130" y="472" width="3" height="1" fill="#c0c0c0"/>
<rect x="136" y="472" width="3" height="1" fill="#c0c0c0"/>
<rect x="142" y="472" width="3" height="1" fill="#c0c0c0"/>
<rect x="148" y="472" width="3" height="1" fill="#c0c0c0"/>
<rect x="154" y="472" width="3" height="1" fill="#c0c0c0"/>
<rect x="160" y="472" width="3" height="1" fill="#c0c0c0"/>
<rect x="166" y="472" width="3" height="1" fill="#c0c0c0"/>
<rect x="172" y="472" width="3" height="1" fill="#c0c0c0"/>
<rect x="178" y="472" width="3" height="1" fill="#c0c0c0"/>
<rect x="184" y="472" width="3" height="1" fill="#c0c0c0"/>
<rect x="190" y="472" width="3" height="1" fill="#c0c0c0"/>
<rect x="196" y="472" width="3" height="1" fill="#c0c0c0"/>
<rect x="202" y="472" width="3" height="1" fill="#c0c0c0"/>
<rect x="208" y="472" width="3" height="1" fill="#c0c0c0"/>
<rect x="214" y="472" width="3" height="1" fill="#c0c0c0"/>
<rect x="220" y="472" width="3" height="1" fill="#c0c0c0"/>
<rect x="226" y="472" width="3" height="1" fill="#c0c0c0"/>
<rect x="232" y="472" width="3" height="1" fill="#c0c0c0"/>
<rect x="238" y="472" width="3" height="1" fill="#c0c0c0"/>
<rect x="244" y="472" width="3" height="1" fill="#c0c0c0"/>
<rect x="250" y="472" width="3" height="1" fill="#c0c0c0"/>
<rect x="256" y="472" width="3" height="1" fill="#c0c0c0"/>
<rect x="262" y="472" width="3" height="1" fill="#c0c0c0"/>
<rect x="268" y="472" width="3" height="1" fill="#c0c0c0"/>
<rect x="274" y="472" width="3" height="1" fill="#c0c0c0"/>
<rect x="280" y="472" width="3" height="1" fill="#c0c0c0"/>
<rect x="286" y="472" width="3" height="1" fill="#c0c0c0"/>
<rect x="292" y="472" width="3" height="1" fill="#c0c0c0"/>
<rect x="298" y="472" width="3" height="1" fill="#c0c0c0"/>
<rect x="304" y="472" width="3" height="1" fill="#c0c0c0"/>
<rect x="310" y="472" width="3" height="1" fill="#c0c0c0"/>
<rect x="316" y="472" width="3" height="1" fill="#c0c0c0"/>
<rect x="322" y="472" width="3" height="1" fill="#c0c0c0"/>
<rect x="328" y="472" width="3" height="1" fill="#c0c0c0"/>
<rect x="334" y="472" width="3" height="1" fill="#c0c0c0"/>
<rect x="340" y="472" width="3" height="1" fill="#c0c0c0"/>
<rect x="346" y="472" width="3" height="1" fill="#c0c0c0"/>
<rect x="352" y="472" width="3" height="1" fill="#c0c0c0"/>
<rect x="358" y="472" width="3" height="1" fill="#c0c0c0"/>
<rect x="364" y="472" width="3" height="1" fill="#c0c0c0"/>
<rect x="370" y="472" width="3" height="1" fill="#c0c0c0"/>
<rect x="376" y="472" width="3" height="1" fill="#c0c0c0"/>
<rect x="382" y="472" width="3" height="1" fill="#c0c0c0"/>
<rect x="388" y="472" width="3" height="1" fill="#c0c0c0"/>
<rect x="394" y="472" width="3" height="1" fill="#c0c0c0"/>
<rect x="400" y="472" width="3" height="1" fill="#c0c0c0"/>
<rect x="406" y="472" width="3" height="1" fill="#c0c0c0"/>
<rect x="412" y="472" width="3" height="1" fill="#c0c0c0"/>
<rect x="418" y="472" width="3" height="1" fill="#c0c0c0"/>
<rect x="424" y="472" width="3" height="1" fill="#c0c0c0"/>
<rect x="430" y="472" width="3" height="1" fill="#c0c0c0"/>
<rect x="436" y="472" width="3" height="1" fill="#c0c0c0"/>
<rect x="442" y="472" width="3" height="1" fill="#c0c0c0"/>
<rect x="448" y="472" width="3" height="1" fill="#c0c0c0"/>
<rect x="454" y="472" width="3" height="1" fill="#c0c0c0"/>
<rect x="460" y="472" width="3" height="1" fill="#c0c0c0"/>
<rect x="466" y="472" width="3" height="1" fill="#c0c0c0"/>
<rect x="472" y="472" width="3" height="1" fill="#c0c0c0"/>
<rect x="478" y="472" width="3" height="1" fill="#c0c0c0"/>
<rect x="484" y="472" width="3" height="1" fill="#c0c0c0"/>
<rect x="490" y="472" width="3" height="1" fill="#c0c0c0"/>
<rect x="496" y="472" width="3" height="1" fill="#c0c0c0"/>
<rect x="502" y="472" width="3" height="1" fill="#c0c0c0"/>
<rect x="508" y="472" width="3" height="1" fill="#c0c0c0"/>
<rect x="514" y="472" width="3" height="1" fill="#c0c0c0"/>
<rect x="520" y="472" width="3" height="1" fill="#c0c0c0"/>
<rect x="526" y="472" width="3" height="1" fill="#c0c0c0"/>
<rect x="532" y="472" width="3" height="1" fill="#c0c0c0"/>
<rect x="538" y="472" width="3" height="1" fill="#c0c0c0"/>
<rect x="544" y="472" width="3" height="1" fill="#c0c0c0"/>
<rect x="550" y="472" width="3" height="1" fill="#c0c0c0"/>
<rect x="556" y="472" width="3" height="1" fill="#c0c0c0"/>
<rect x="562" y="472" width="3" height="1" fill="#c0c0c0"/>
<rect x="568" y="472" width="3" height="1" fill="#c0c0c0"/>
<rect x="574" y="472" width="3" height="1" fill="#c0c0c0"/>
<rect x="580" y="472" width="3" height="1" fill="#c0c0c0"/>
<rect x="586" y="472" width="3" height="1" fill="#c0c0c0"/>
<rect x="592" y="472" width="3" height="1" fill="#c0c0c0"/>
<rect x="598" y="472" width="3" height="1" fill="#c0c0c0"/>
<rect x="604" y="472" width="3" height="1" fill="#c0c0c0"/>
<rect x="610" y="472" width="3" height="1" fill="#c0c0c0"/>
<rect x="616" y="472" width="3" height="1" fill="#c0c0c0"/>
<rect x="622" y="472" width="3" height="1" fill="#c0c0c0"/>
<rect x="628" y="472" width="3" height="1" fill="#c0c0c0"/>
<rect x="634" y="472" width="3" height="1" fill="#c0c0c0"/>
<rect x="640" y="472" width="3" height="1" fill="#c0c0c0"/>
<rect x="646" y="472" width="3" height="1" fill="#c0c0c0"/>
<rect x="652" y="472" width="2" height="1" fill="#c0c0c0"/>
<polyline points="3.7,453.6 11.1,454.0 15.8,451.2 19.5,445.6 23.2,442.0 26.9,446.6 30.6,454.9 34.4,463.3 38.0,469.8 41.8,470.3 46.4,467.0 50.1,462.4 53.9,455.9 57.6,448.4 61.3,442.0 65.0,440.6 69.6,442.0 73.4,445.6 77.0,449.4 80.8,455.9 85.4,461.0 89.1,459.6 92.9,455.9 96.6,452.1 101.2,454.0 105.8,461.4 109.6,467.9 113.3,474.0 117.9,477.2 120.0,475.9 124.6,475.4 129.3,471.6 135.8,471.1 141.4,474.4 147.9,478.5 154.4,480.4 158.0,475.4 161.8,466.0 165.5,455.9 169.2,448.4 172.0,444.7 176.6,447.5 180.4,454.0 184.0,464.2 188.7,472.2 194.3,473.5 198.9,467.9 203.6,460.5 207.3,454.0 211.0,450.7 215.6,454.9 219.4,462.4 223.0,469.8 227.7,473.5 232.4,473.5 237.0,467.9 240.0,462.9 243.7,455.9 247.4,449.4 252.0,444.7 256.7,442.0 261.4,441.4 266.0,440.0 269.7,441.9 273.4,448.4 277.1,456.8 280.9,464.2 285.5,467.4 290.0,469.2 295.7,469.2 300.4,466.6 305.0,461.4 309.6,455.9 314.3,449.9 318.0,443.8 321.7,441.4 325.4,445.6 329.1,454.0 332.9,467.0 336.6,476.7 341.2,478.1 346.8,475.9 351.4,471.1 356.0,464.2 360.0,457.3 364.6,455.5 369.3,455.9 373.9,453.0 378.6,448.8 383.2,448.4 387.9,452.1 393.4,457.7 399.0,462.4 404.6,465.1 410.0,464.2 414.8,461.4 418.5,455.9 422.2,453.0 426.9,453.0 431.5,458.6 436.1,459.6 441.7,457.7 448.2,457.7 453.8,454.9 458.4,448.4 463.0,442.9 467.7,442.0 472.4,449.4 476.0,458.6 480.7,464.2 484.6,466.4 489.0,462.3 493.7,453.1 498.3,445.8 502.9,441.3 507.4,442.9 512.0,450.9 516.6,461.0 521.0,470.3 525.7,471.0 530.3,466.9 534.9,456.6 539.4,449.0 544.0,450.9 548.6,460.0 553.0,466.9 558.9,467.3 564.6,463.4 569.0,458.9 573.7,457.3 578.3,462.3 582.9,465.7 588.6,467.3 594.3,464.6 598.9,461.0 603.4,455.4 608.0,449.7 612.6,452.0 617.0,463.4 620.6,473.7 624.0,478.3 626.3,477.8" fill="none" stroke="#ff0000" stroke-width="1" stroke-dasharray="3,3" shape-rendering="crispEdges" stroke-linejoin="round"/>
<polyline points="3.7,455.5 7.4,455.9 11.1,453.0 14.9,446.6 18.6,441.4 21.9,441.4 25.0,447.5 28.8,459.6 32.5,467.9 35.7,472.9 39.9,469.8 43.6,467.0 47.4,461.4 51.0,454.0 54.8,445.6 57.6,440.6 61.3,440.0 65.0,441.9 67.8,445.6 71.5,446.6 75.2,452.1 78.9,459.6 83.6,463.3 87.3,461.0 91.0,451.2 94.7,448.0 97.5,452.1 101.2,461.4 106.8,472.6 111.4,475.4 116.0,478.1 120.0,475.4 123.7,474.4 127.4,467.4 131.1,471.1 134.9,472.2 138.6,475.4 143.2,478.5 147.9,481.5 151.2,482.2 154.4,476.7 158.0,466.0 161.8,454.0 164.6,446.6 167.9,441.9 171.0,443.2 174.8,450.3 178.5,459.6 183.1,470.7 187.8,477.2 191.5,473.5 196.1,467.0 200.8,459.6 204.5,451.2 207.7,444.3 211.0,451.2 214.7,461.4 219.4,472.2 223.0,471.6 227.7,477.8 231.4,472.6 236.0,467.0 239.8,455.9 243.7,448.4 247.4,443.8 252.0,443.2 255.8,441.4 259.5,441.0 263.2,438.2 266.9,441.9 270.6,450.3 275.3,460.5 279.4,467.9 288.3,467.9 292.0,470.3 295.7,468.9 299.4,464.2 303.1,458.6 307.8,453.0 311.5,449.4 315.2,443.8 319.5,435.4 322.6,442.0 326.4,459.6 330.0,474.4 335.3,482.2 339.4,478.1 343.0,475.4 347.3,471.6 351.4,464.2 355.1,456.8 359.2,451.2 362.8,456.8 367.4,459.9 371.1,451.2 375.2,446.2 378.6,446.2 382.7,454.0 386.9,455.9 391.6,458.1 396.2,463.7 399.9,466.0 404.6,464.8 411.0,463.3 415.7,454.0 419.4,446.2 423.1,456.2 427.8,459.9 431.5,464.2 435.2,456.2 438.9,457.7 443.6,459.2 449.1,457.7 453.8,448.4 458.4,441.9 463.0,439.1 467.7,447.5 472.4,456.8 475.5,467.9 479.8,467.0 484.6,465.7 489.0,455.4 493.7,444.0 498.3,440.6 502.9,440.6 507.4,447.4 513.0,461.0 519.3,474.2 523.4,471.4 528.0,469.0 531.4,454.3 536.0,447.4 539.4,444.5 542.9,455.4 547.4,464.6 552.0,471.0 557.7,465.7 563.4,461.0 568.0,455.4 572.6,457.7 576.0,462.3 579.4,468.0 584.0,466.4 587.4,466.4 591.5,467.3 596.6,462.3 600.0,456.6 604.6,448.6 608.0,443.5 611.4,455.4 614.9,471.4 619.9,479.4 622.9,478.3 626.3,477.1" fill="none" stroke="#20b2aa" stroke-width="1" shape-rendering="crispEdges" stroke-linejoin="round"/>
<text x="7.5" y="442" font-size="10" fill="#000" stroke="#000" stroke-width="0.25" textLength="49" lengthAdjust="spacingAndGlyphs" xml:space="preserve">Stoch(5,3,3)</text>
<text x="61" y="442" font-size="10" fill="#000" stroke="#000" stroke-width="0.25" textLength="32.5" lengthAdjust="spacingAndGlyphs" xml:space="preserve">10.0000</text>
<text x="96.8" y="442" font-size="10" fill="#000" stroke="#000" stroke-width="0.25" textLength="27.5" lengthAdjust="spacingAndGlyphs" xml:space="preserve">8.6187</text>
<rect x="655" y="431" width="1" height="1" fill="#000"/>
<text x="657.7" y="440" font-size="10" fill="#000" stroke="#000" stroke-width="0.25" textLength="15.3" lengthAdjust="spacingAndGlyphs" xml:space="preserve">100</text>
<rect x="655" y="441" width="1" height="1" fill="#000"/>
<text x="657.2" y="445" font-size="10" fill="#000" stroke="#000" stroke-width="0.25" textLength="10.2" lengthAdjust="spacingAndGlyphs" xml:space="preserve">80</text>
<rect x="655" y="456" width="1" height="1" fill="#000"/>
<text x="657.2" y="460" font-size="10" fill="#000" stroke="#000" stroke-width="0.25" textLength="10.2" lengthAdjust="spacingAndGlyphs" xml:space="preserve">50</text>
<rect x="655" y="472" width="1" height="1" fill="#000"/>
<text x="657.2" y="476" font-size="10" fill="#000" stroke="#000" stroke-width="0.25" textLength="10.2" lengthAdjust="spacingAndGlyphs" xml:space="preserve">20</text>
<rect x="655" y="482" width="1" height="1" fill="#000"/>
<text x="658" y="480.5" font-size="10" fill="#000" stroke="#000" stroke-width="0.25" textLength="5.1" lengthAdjust="spacingAndGlyphs" xml:space="preserve">0</text>
<rect x="4" y="488" width="3" height="1" fill="#c0c0c0"/>
<rect x="10" y="488" width="3" height="1" fill="#c0c0c0"/>
<rect x="16" y="488" width="3" height="1" fill="#c0c0c0"/>
<rect x="22" y="488" width="3" height="1" fill="#c0c0c0"/>
<rect x="28" y="488" width="3" height="1" fill="#c0c0c0"/>
<rect x="34" y="488" width="3" height="1" fill="#c0c0c0"/>
<rect x="40" y="488" width="3" height="1" fill="#c0c0c0"/>
<rect x="46" y="488" width="3" height="1" fill="#c0c0c0"/>
<rect x="52" y="488" width="3" height="1" fill="#c0c0c0"/>
<rect x="58" y="488" width="3" height="1" fill="#c0c0c0"/>
<rect x="64" y="488" width="3" height="1" fill="#c0c0c0"/>
<rect x="70" y="488" width="3" height="1" fill="#c0c0c0"/>
<rect x="76" y="488" width="3" height="1" fill="#c0c0c0"/>
<rect x="82" y="488" width="3" height="1" fill="#c0c0c0"/>
<rect x="88" y="488" width="3" height="1" fill="#c0c0c0"/>
<rect x="94" y="488" width="3" height="1" fill="#c0c0c0"/>
<rect x="100" y="488" width="3" height="1" fill="#c0c0c0"/>
<rect x="106" y="488" width="3" height="1" fill="#c0c0c0"/>
<rect x="112" y="488" width="3" height="1" fill="#c0c0c0"/>
<rect x="118" y="488" width="3" height="1" fill="#c0c0c0"/>
<rect x="124" y="488" width="3" height="1" fill="#c0c0c0"/>
<rect x="130" y="488" width="3" height="1" fill="#c0c0c0"/>
<rect x="136" y="488" width="3" height="1" fill="#c0c0c0"/>
<rect x="142" y="488" width="3" height="1" fill="#c0c0c0"/>
<rect x="148" y="488" width="3" height="1" fill="#c0c0c0"/>
<rect x="154" y="488" width="3" height="1" fill="#c0c0c0"/>
<rect x="160" y="488" width="3" height="1" fill="#c0c0c0"/>
<rect x="166" y="488" width="3" height="1" fill="#c0c0c0"/>
<rect x="172" y="488" width="3" height="1" fill="#c0c0c0"/>
<rect x="178" y="488" width="3" height="1" fill="#c0c0c0"/>
<rect x="184" y="488" width="3" height="1" fill="#c0c0c0"/>
<rect x="190" y="488" width="3" height="1" fill="#c0c0c0"/>
<rect x="196" y="488" width="3" height="1" fill="#c0c0c0"/>
<rect x="202" y="488" width="3" height="1" fill="#c0c0c0"/>
<rect x="208" y="488" width="3" height="1" fill="#c0c0c0"/>
<rect x="214" y="488" width="3" height="1" fill="#c0c0c0"/>
<rect x="220" y="488" width="3" height="1" fill="#c0c0c0"/>
<rect x="226" y="488" width="3" height="1" fill="#c0c0c0"/>
<rect x="232" y="488" width="3" height="1" fill="#c0c0c0"/>
<rect x="238" y="488" width="3" height="1" fill="#c0c0c0"/>
<rect x="244" y="488" width="3" height="1" fill="#c0c0c0"/>
<rect x="250" y="488" width="3" height="1" fill="#c0c0c0"/>
<rect x="256" y="488" width="3" height="1" fill="#c0c0c0"/>
<rect x="262" y="488" width="3" height="1" fill="#c0c0c0"/>
<rect x="268" y="488" width="3" height="1" fill="#c0c0c0"/>
<rect x="274" y="488" width="3" height="1" fill="#c0c0c0"/>
<rect x="280" y="488" width="3" height="1" fill="#c0c0c0"/>
<rect x="286" y="488" width="3" height="1" fill="#c0c0c0"/>
<rect x="292" y="488" width="3" height="1" fill="#c0c0c0"/>
<rect x="298" y="488" width="3" height="1" fill="#c0c0c0"/>
<rect x="304" y="488" width="3" height="1" fill="#c0c0c0"/>
<rect x="310" y="488" width="3" height="1" fill="#c0c0c0"/>
<rect x="316" y="488" width="3" height="1" fill="#c0c0c0"/>
<rect x="322" y="488" width="3" height="1" fill="#c0c0c0"/>
<rect x="328" y="488" width="3" height="1" fill="#c0c0c0"/>
<rect x="334" y="488" width="3" height="1" fill="#c0c0c0"/>
<rect x="340" y="488" width="3" height="1" fill="#c0c0c0"/>
<rect x="346" y="488" width="3" height="1" fill="#c0c0c0"/>
<rect x="352" y="488" width="3" height="1" fill="#c0c0c0"/>
<rect x="358" y="488" width="3" height="1" fill="#c0c0c0"/>
<rect x="364" y="488" width="3" height="1" fill="#c0c0c0"/>
<rect x="370" y="488" width="3" height="1" fill="#c0c0c0"/>
<rect x="376" y="488" width="3" height="1" fill="#c0c0c0"/>
<rect x="382" y="488" width="3" height="1" fill="#c0c0c0"/>
<rect x="388" y="488" width="3" height="1" fill="#c0c0c0"/>
<rect x="394" y="488" width="3" height="1" fill="#c0c0c0"/>
<rect x="400" y="488" width="3" height="1" fill="#c0c0c0"/>
<rect x="406" y="488" width="3" height="1" fill="#c0c0c0"/>
<rect x="412" y="488" width="3" height="1" fill="#c0c0c0"/>
<rect x="418" y="488" width="3" height="1" fill="#c0c0c0"/>
<rect x="424" y="488" width="3" height="1" fill="#c0c0c0"/>
<rect x="430" y="488" width="3" height="1" fill="#c0c0c0"/>
<rect x="436" y="488" width="3" height="1" fill="#c0c0c0"/>
<rect x="442" y="488" width="3" height="1" fill="#c0c0c0"/>
<rect x="448" y="488" width="3" height="1" fill="#c0c0c0"/>
<rect x="454" y="488" width="3" height="1" fill="#c0c0c0"/>
<rect x="460" y="488" width="3" height="1" fill="#c0c0c0"/>
<rect x="466" y="488" width="3" height="1" fill="#c0c0c0"/>
<rect x="472" y="488" width="3" height="1" fill="#c0c0c0"/>
<rect x="478" y="488" width="3" height="1" fill="#c0c0c0"/>
<rect x="484" y="488" width="3" height="1" fill="#c0c0c0"/>
<rect x="490" y="488" width="3" height="1" fill="#c0c0c0"/>
<rect x="496" y="488" width="3" height="1" fill="#c0c0c0"/>
<rect x="502" y="488" width="3" height="1" fill="#c0c0c0"/>
<rect x="508" y="488" width="3" height="1" fill="#c0c0c0"/>
<rect x="514" y="488" width="3" height="1" fill="#c0c0c0"/>
<rect x="520" y="488" width="3" height="1" fill="#c0c0c0"/>
<rect x="526" y="488" width="3" height="1" fill="#c0c0c0"/>
<rect x="532" y="488" width="3" height="1" fill="#c0c0c0"/>
<rect x="538" y="488" width="3" height="1" fill="#c0c0c0"/>
<rect x="544" y="488" width="3" height="1" fill="#c0c0c0"/>
<rect x="550" y="488" width="3" height="1" fill="#c0c0c0"/>
<rect x="556" y="488" width="3" height="1" fill="#c0c0c0"/>
<rect x="562" y="488" width="3" height="1" fill="#c0c0c0"/>
<rect x="568" y="488" width="3" height="1" fill="#c0c0c0"/>
<rect x="574" y="488" width="3" height="1" fill="#c0c0c0"/>
<rect x="580" y="488" width="3" height="1" fill="#c0c0c0"/>
<rect x="586" y="488" width="3" height="1" fill="#c0c0c0"/>
<rect x="592" y="488" width="3" height="1" fill="#c0c0c0"/>
<rect x="598" y="488" width="3" height="1" fill="#c0c0c0"/>
<rect x="604" y="488" width="3" height="1" fill="#c0c0c0"/>
<rect x="610" y="488" width="3" height="1" fill="#c0c0c0"/>
<rect x="616" y="488" width="3" height="1" fill="#c0c0c0"/>
<rect x="622" y="488" width="3" height="1" fill="#c0c0c0"/>
<rect x="628" y="488" width="3" height="1" fill="#c0c0c0"/>
<rect x="634" y="488" width="3" height="1" fill="#c0c0c0"/>
<rect x="640" y="488" width="3" height="1" fill="#c0c0c0"/>
<rect x="646" y="488" width="3" height="1" fill="#c0c0c0"/>
<rect x="652" y="488" width="2" height="1" fill="#c0c0c0"/>
<rect x="3" y="488" width="1" height="17" fill="#0000ff"/>
<rect x="7" y="488" width="1" height="16" fill="#0000ff"/>
<rect x="11" y="488" width="1" height="14" fill="#0000ff"/>
<rect x="15" y="488" width="1" height="11" fill="#0000ff"/>
<rect x="19" y="488" width="1" height="10" fill="#0000ff"/>
<rect x="23" y="488" width="1" height="9" fill="#0000ff"/>
<rect x="27" y="488" width="1" height="10" fill="#0000ff"/>
<rect x="31" y="488" width="1" height="12" fill="#0000ff"/>
<rect x="35" y="488" width="1" height="13" fill="#0000ff"/>
<rect x="39" y="488" width="1" height="15" fill="#0000ff"/>
<rect x="43" y="488" width="1" height="17" fill="#0000ff"/>
<rect x="47" y="488" width="1" height="17" fill="#0000ff"/>
<rect x="51" y="488" width="1" height="15" fill="#0000ff"/>
<rect x="55" y="488" width="1" height="13" fill="#0000ff"/>
<rect x="59" y="488" width="1" height="10" fill="#0000ff"/>
<rect x="63" y="488" width="1" height="6" fill="#0000ff"/>
<rect x="67" y="488" width="1" height="5" fill="#0000ff"/>
<rect x="71" y="488" width="1" height="4" fill="#0000ff"/>
<rect x="75" y="488" width="1" height="4" fill="#0000ff"/>
<rect x="79" y="488" width="1" height="5" fill="#0000ff"/>
<rect x="83" y="488" width="1" height="5" fill="#0000ff"/>
<rect x="87" y="488" width="1" height="5" fill="#0000ff"/>
<rect x="91" y="488" width="1" height="4" fill="#0000ff"/>
<rect x="95" y="488" width="1" height="4" fill="#0000ff"/>
<rect x="99" y="488" width="1" height="4" fill="#0000ff"/>
<rect x="103" y="488" width="1" height="6" fill="#0000ff"/>
<rect x="107" y="488" width="1" height="10" fill="#0000ff"/>
<rect x="111" y="488" width="1" height="11" fill="#0000ff"/>
<rect x="115" y="488" width="1" height="13" fill="#0000ff"/>
<rect x="119" y="488" width="1" height="14" fill="#0000ff"/>
<rect x="123" y="488" width="1" height="15" fill="#0000ff"/>
<rect x="127" y="488" width="1" height="17" fill="#0000ff"/>
<rect x="131" y="488" width="1" height="19" fill="#0000ff"/>
<rect x="135" y="488" width="1" height="23" fill="#0000ff"/>
<rect x="139" y="488" width="1" height="26" fill="#0000ff"/>
<rect x="143" y="488" width="1" height="28" fill="#0000ff"/>
<rect x="147" y="488" width="1" height="31" fill="#0000ff"/>
<rect x="151" y="488" width="1" height="34" fill="#0000ff"/>
<rect x="155" y="488" width="1" height="35" fill="#0000ff"/>
<rect x="159" y="488" width="1" height="34" fill="#0000ff"/>
<rect x="163" y="488" width="1" height="31" fill="#0000ff"/>
<rect x="167" y="488" width="1" height="30" fill="#0000ff"/>
<rect x="171" y="488" width="1" height="30" fill="#0000ff"/>
<rect x="175" y="488" width="1" height="30" fill="#0000ff"/>
<rect x="179" y="488" width="1" height="30" fill="#0000ff"/>
<rect x="183" y="488" width="1" height="32" fill="#0000ff"/>
<rect x="187" y="488" width="1" height="32" fill="#0000ff"/>
<rect x="191" y="488" width="1" height="31" fill="#0000ff"/>
<rect x="195" y="488" width="1" height="30" fill="#0000ff"/>
<rect x="199" y="488" width="1" height="30" fill="#0000ff"/>
<rect x="203" y="488" width="1" height="30" fill="#0000ff"/>
<rect x="207" y="488" width="1" height="29" fill="#0000ff"/>
<rect x="211" y="488" width="1" height="28" fill="#0000ff"/>
<rect x="215" y="488" width="1" height="28" fill="#0000ff"/>
<rect x="219" y="488" width="1" height="29" fill="#0000ff"/>
<rect x="223" y="488" width="1" height="30" fill="#0000ff"/>
<rect x="227" y="488" width="1" height="34" fill="#0000ff"/>
<rect x="231" y="488" width="1" height="37" fill="#0000ff"/>
<rect x="235" y="488" width="1" height="39" fill="#0000ff"/>
<rect x="239" y="488" width="1" height="38" fill="#0000ff"/>
<rect x="243" y="488" width="1" height="35" fill="#0000ff"/>
<rect x="247" y="488" width="1" height="34" fill="#0000ff"/>
<rect x="251" y="488" width="1" height="31" fill="#0000ff"/>
<rect x="255" y="488" width="1" height="27" fill="#0000ff"/>
<rect x="259" y="488" width="1" height="24" fill="#0000ff"/>
<rect x="263" y="488" width="1" height="20" fill="#0000ff"/>
<rect x="267" y="488" width="1" height="16" fill="#0000ff"/>
<rect x="271" y="488" width="1" height="17" fill="#0000ff"/>
<rect x="275" y="488" width="1" height="19" fill="#0000ff"/>
<rect x="279" y="488" width="1" height="21" fill="#0000ff"/>
<rect x="283" y="488" width="1" height="23" fill="#0000ff"/>
<rect x="287" y="488" width="1" height="24" fill="#0000ff"/>
<rect x="291" y="488" width="1" height="28" fill="#0000ff"/>
<rect x="295" y="488" width="1" height="29" fill="#0000ff"/>
<rect x="299" y="488" width="1" height="28" fill="#0000ff"/>
<rect x="303" y="488" width="1" height="26" fill="#0000ff"/>
<rect x="307" y="488" width="1" height="25" fill="#0000ff"/>
<rect x="311" y="488" width="1" height="24" fill="#0000ff"/>
<rect x="315" y="488" width="1" height="22" fill="#0000ff"/>
<rect x="319" y="488" width="1" height="21" fill="#0000ff"/>
<rect x="323" y="488" width="1" height="20" fill="#0000ff"/>
<rect x="327" y="488" width="1" height="21" fill="#0000ff"/>
<rect x="331" y="488" width="1" height="27" fill="#0000ff"/>
<rect x="335" y="488" width="1" height="35" fill="#0000ff"/>
<rect x="339" y="488" width="1" height="40" fill="#0000ff"/>
<rect x="343" y="488" width="1" height="44" fill="#0000ff"/>
<rect x="347" y="488" width="1" height="48" fill="#0000ff"/>
<rect x="351" y="488" width="1" height="46" fill="#0000ff"/>
<rect x="355" y="488" width="1" height="47" fill="#0000ff"/>
<rect x="359" y="488" width="1" height="48" fill="#0000ff"/>
<rect x="363" y="488" width="1" height="49" fill="#0000ff"/>
<rect x="367" y="488" width="1" height="48" fill="#0000ff"/>
<rect x="371" y="488" width="1" height="43" fill="#0000ff"/>
<rect x="375" y="488" width="1" height="40" fill="#0000ff"/>
<rect x="379" y="488" width="1" height="38" fill="#0000ff"/>
<rect x="383" y="488" width="1" height="36" fill="#0000ff"/>
<rect x="387" y="488" width="1" height="34" fill="#0000ff"/>
<rect x="391" y="488" width="1" height="32" fill="#0000ff"/>
<rect x="395" y="488" width="1" height="31" fill="#0000ff"/>
<rect x="399" y="488" width="1" height="30" fill="#0000ff"/>
<rect x="403" y="488" width="1" height="28" fill="#0000ff"/>
<rect x="407" y="488" width="1" height="27" fill="#0000ff"/>
<rect x="411" y="488" width="1" height="25" fill="#0000ff"/>
<rect x="415" y="488" width="1" height="23" fill="#0000ff"/>
<rect x="419" y="488" width="1" height="21" fill="#0000ff"/>
<rect x="423" y="488" width="1" height="20" fill="#0000ff"/>
<rect x="427" y="488" width="1" height="19" fill="#0000ff"/>
<rect x="431" y="488" width="1" height="18" fill="#0000ff"/>
<rect x="435" y="488" width="1" height="18" fill="#0000ff"/>
<rect x="439" y="488" width="1" height="19" fill="#0000ff"/>
<rect x="443" y="488" width="1" height="20" fill="#0000ff"/>
<rect x="447" y="488" width="1" height="21" fill="#0000ff"/>
<rect x="451" y="488" width="1" height="21" fill="#0000ff"/>
<rect x="455" y="488" width="1" height="20" fill="#0000ff"/>
<rect x="459" y="488" width="1" height="18" fill="#0000ff"/>
<rect x="463" y="488" width="1" height="18" fill="#0000ff"/>
<rect x="467" y="488" width="1" height="18" fill="#0000ff"/>
<rect x="471" y="488" width="1" height="19" fill="#0000ff"/>
<rect x="475" y="488" width="1" height="19" fill="#0000ff"/>
<rect x="479" y="488" width="1" height="19" fill="#0000ff"/>
<rect x="483" y="488" width="1" height="18" fill="#0000ff"/>
<rect x="487" y="488" width="1" height="17" fill="#0000ff"/>
<rect x="491" y="488" width="1" height="16" fill="#0000ff"/>
<rect x="495" y="488" width="1" height="14" fill="#0000ff"/>
<rect x="499" y="488" width="1" height="13" fill="#0000ff"/>
<rect x="503" y="488" width="1" height="11" fill="#0000ff"/>
<rect x="507" y="488" width="1" height="10" fill="#0000ff"/>
<rect x="511" y="488" width="1" height="8" fill="#0000ff"/>
<rect x="515" y="488" width="1" height="11" fill="#0000ff"/>
<rect x="519" y="488" width="1" height="13" fill="#0000ff"/>
<rect x="523" y="488" width="1" height="13" fill="#0000ff"/>
<rect x="527" y="488" width="1" height="13" fill="#0000ff"/>
<rect x="531" y="488" width="1" height="10" fill="#0000ff"/>
<rect x="535" y="488" width="1" height="8" fill="#0000ff"/>
<rect x="539" y="488" width="1" height="8" fill="#0000ff"/>
<rect x="543" y="488" width="1" height="9" fill="#0000ff"/>
<rect x="547" y="488" width="1" height="10" fill="#0000ff"/>
<rect x="551" y="488" width="1" height="10" fill="#0000ff"/>
<rect x="555" y="488" width="1" height="9" fill="#0000ff"/>
<rect x="559" y="488" width="1" height="8" fill="#0000ff"/>
<rect x="563" y="488" width="1" height="7" fill="#0000ff"/>
<rect x="567" y="488" width="1" height="6" fill="#0000ff"/>
<rect x="571" y="488" width="1" height="5" fill="#0000ff"/>
<rect x="575" y="488" width="1" height="5" fill="#0000ff"/>
<rect x="579" y="488" width="1" height="5" fill="#0000ff"/>
<rect x="583" y="488" width="1" height="5" fill="#0000ff"/>
<rect x="587" y="488" width="1" height="5" fill="#0000ff"/>
<rect x="591" y="488" width="1" height="5" fill="#0000ff"/>
<rect x="595" y="488" width="1" height="4" fill="#0000ff"/>
<rect x="599" y="488" width="1" height="3" fill="#0000ff"/>
<rect x="603" y="488" width="1" height="3" fill="#0000ff"/>
<rect x="607" y="488" width="1" height="2" fill="#0000ff"/>
<rect x="611" y="488" width="1" height="4" fill="#0000ff"/>
<rect x="615" y="488" width="1" height="9" fill="#0000ff"/>
<rect x="619" y="488" width="1" height="12" fill="#0000ff"/>
<rect x="623" y="488" width="1" height="15" fill="#0000ff"/>
<rect x="627" y="488" width="1" height="20" fill="#0000ff"/>
<polyline points="3.0,504.4 14.9,504.0 24.0,501.6 37.0,499.8 55.7,500.3 70.6,498.9 78.0,497.0 96.6,492.9 111.4,491.4 118.8,493.3 130.0,498.0 140.0,505.4 150.0,511.7 160.0,515.4 170.0,517.0 185.0,518.0 200.0,517.0 210.0,516.0 225.7,516.4 241.4,519.2 250.9,521.7 261.9,519.2 272.9,513.0 282.3,509.2 291.8,508.5 304.3,512.3 316.9,513.0 329.5,511.7 338.9,514.8 348.4,521.0 357.8,526.5 367.2,531.8 373.5,533.7 381.4,530.5 392.4,524.9 405.0,519.2 417.5,513.9 423.0,512.3 432.6,509.2 442.0,507.6 454.6,506.6 467.2,505.4 482.9,505.4 495.5,503.5 504.9,502.9 514.3,499.7 526.9,499.0 536.4,497.2 548.9,497.2 561.5,496.0 577.2,494.0 589.8,492.8 602.4,491.0 611.8,491.0 618.0,492.8 624.4,495.0 627.0,495.3" fill="none" stroke="#ff0000" stroke-width="1" stroke-dasharray="3,3" shape-rendering="crispEdges" stroke-linejoin="round"/>
<text x="7" y="498" font-size="10" fill="#000" stroke="#000" stroke-width="0.25" textLength="65" lengthAdjust="spacingAndGlyphs" xml:space="preserve">MACD(12,26,9)</text>
<text x="76.3" y="498" font-size="10" fill="#000" stroke="#000" stroke-width="0.25" textLength="40" lengthAdjust="spacingAndGlyphs" xml:space="preserve">-0.000975</text>
<text x="119.7" y="498" font-size="10" fill="#000" stroke="#000" stroke-width="0.25" textLength="41.5" lengthAdjust="spacingAndGlyphs" xml:space="preserve">-0.000370</text>
<rect x="655" y="487" width="1" height="2" fill="#000"/>
<rect x="655" y="538" width="1" height="1" fill="#000"/>
<clipPath id="cm"><rect x="655" y="486" width="45" height="60"/></clipPath>
<g clip-path="url(#cm)">
<text x="658" y="492" font-size="10" fill="#000" stroke="#000" stroke-width="0.25" textLength="17.8" lengthAdjust="spacingAndGlyphs" xml:space="preserve">0.00</text>
</g>
<text x="658" y="496" font-size="10" fill="#000" stroke="#000" stroke-width="0.25" textLength="38" lengthAdjust="spacingAndGlyphs" xml:space="preserve">0.000084</text>
<text x="657.8" y="536" font-size="10" fill="#000" stroke="#000" stroke-width="0.25" textLength="41" lengthAdjust="spacingAndGlyphs" xml:space="preserve">-0.002614</text>
<rect x="3" y="540" width="1" height="3" fill="#000"/>
<text x="2.7" y="552" font-size="10" fill="#000" stroke="#000" stroke-width="0.25" textLength="51" lengthAdjust="spacingAndGlyphs" xml:space="preserve">26 Feb 2020</text>
<rect x="67" y="540" width="1" height="3" fill="#000"/>
<text x="66.7" y="552" font-size="10" fill="#000" stroke="#000" stroke-width="0.25" textLength="53.5" lengthAdjust="spacingAndGlyphs" xml:space="preserve">26 Feb 18:00</text>
<rect x="131" y="540" width="1" height="3" fill="#000"/>
<text x="130.7" y="552" font-size="10" fill="#000" stroke="#000" stroke-width="0.25" textLength="53.5" lengthAdjust="spacingAndGlyphs" xml:space="preserve">27 Feb 10:00</text>
<rect x="195" y="540" width="1" height="3" fill="#000"/>
<text x="194.7" y="552" font-size="10" fill="#000" stroke="#000" stroke-width="0.25" textLength="53.5" lengthAdjust="spacingAndGlyphs" xml:space="preserve">28 Feb 02:00</text>
<rect x="259" y="540" width="1" height="3" fill="#000"/>
<text x="258.7" y="552" font-size="10" fill="#000" stroke="#000" stroke-width="0.25" textLength="53.5" lengthAdjust="spacingAndGlyphs" xml:space="preserve">28 Feb 18:00</text>
<rect x="323" y="540" width="1" height="3" fill="#000"/>
<text x="322.7" y="552" font-size="10" fill="#000" stroke="#000" stroke-width="0.25" textLength="49.5" lengthAdjust="spacingAndGlyphs" xml:space="preserve">2 Mar 10:00</text>
<rect x="387" y="540" width="1" height="3" fill="#000"/>
<text x="386.7" y="552" font-size="10" fill="#000" stroke="#000" stroke-width="0.25" textLength="49.5" lengthAdjust="spacingAndGlyphs" xml:space="preserve">3 Mar 02:00</text>
<rect x="451" y="540" width="1" height="3" fill="#000"/>
<text x="450.7" y="552" font-size="10" fill="#000" stroke="#000" stroke-width="0.25" textLength="49.5" lengthAdjust="spacingAndGlyphs" xml:space="preserve">3 Mar 18:00</text>
<rect x="515" y="540" width="1" height="3" fill="#000"/>
<text x="514.7" y="552" font-size="10" fill="#000" stroke="#000" stroke-width="0.25" textLength="49.5" lengthAdjust="spacingAndGlyphs" xml:space="preserve">4 Mar 10:00</text>
<rect x="579" y="540" width="1" height="3" fill="#000"/>
<text x="578.7" y="552" font-size="10" fill="#000" stroke="#000" stroke-width="0.25" textLength="49.5" lengthAdjust="spacingAndGlyphs" xml:space="preserve">5 Mar 02:00</text></svg>
</body></html>
